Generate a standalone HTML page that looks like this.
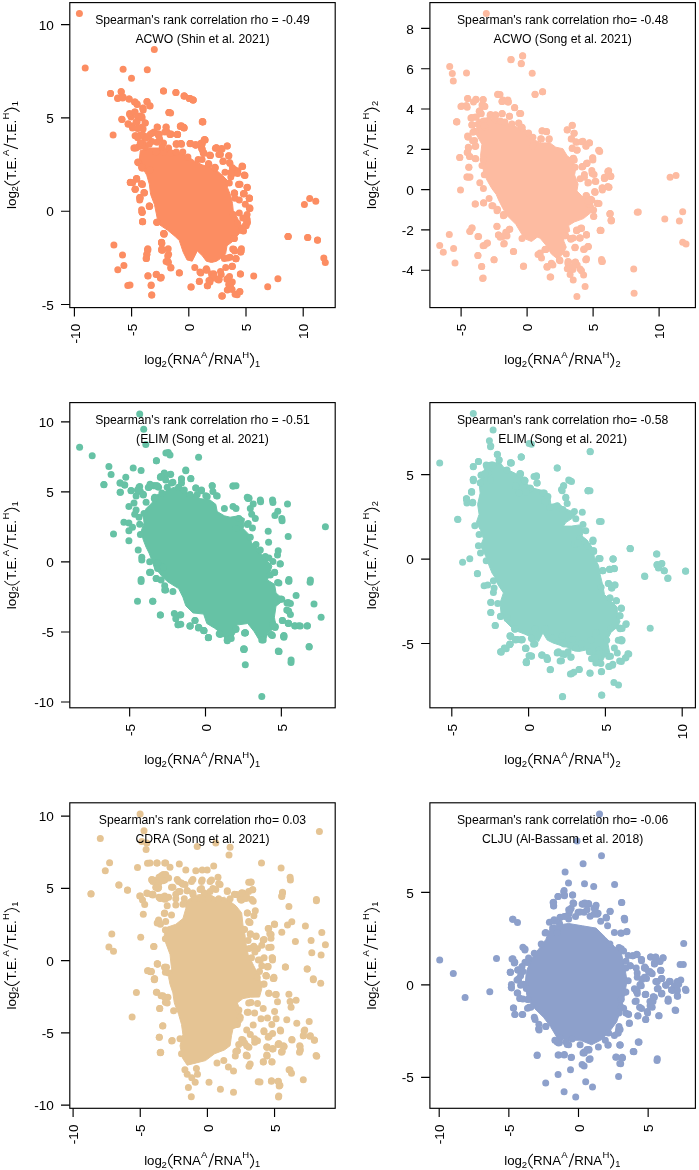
<!DOCTYPE html>
<html><head><meta charset="utf-8"><style>
html,body{margin:0;padding:0;background:#fff;}
svg{display:block;will-change:transform;}
text{font-family:"Liberation Sans", sans-serif;fill:#000;}
</style></head><body>
<svg width="699" height="1170" viewBox="0 0 699 1170">
<g fill="#FC8D62"><polygon points="140.3,150.6 149.3,148.0 162.2,148.0 168.6,149.3 178.9,151.9 186.6,155.7 194.4,160.9 202.1,164.8 209.8,167.3 216.2,170.0 222.2,175.2 228.2,181.2 227.3,187.2 230.8,195.8 232.5,203.5 233.3,211.2 237.6,218.1 240.2,225.8 239.8,232.9 232.1,241.9 227.0,245.7 225.7,253.5 223.1,257.3 220.5,258.6 216.6,261.2 211.5,262.5 206.3,261.2 202.5,256.0 197.3,250.9 194.8,256.0 192.2,261.2 187.0,259.9 183.2,252.2 179.3,240.6 175.4,236.7 167.7,230.3 160.0,225.1 157.2,218.1 154.5,204.7 150.6,194.4 149.3,184.1 146.7,175.1 142.9,168.6 139.0,162.2" fill="#FC8D62" stroke="#FC8D62" stroke-width="1" stroke-linejoin="round"/>
<circle cx="79.4" cy="13.6" r="3.5"/>
<circle cx="154.3" cy="49.5" r="3.5"/>
<circle cx="85.2" cy="67.9" r="3.5"/>
<circle cx="123.1" cy="69.3" r="3.5"/>
<circle cx="147.3" cy="69.7" r="3.5"/>
<circle cx="131.5" cy="78.3" r="3.5"/>
<circle cx="110.5" cy="93.5" r="3.5"/>
<circle cx="121.3" cy="91.9" r="3.5"/>
<circle cx="117.7" cy="98.1" r="3.5"/>
<circle cx="122.7" cy="98.1" r="3.5"/>
<circle cx="129.1" cy="98.9" r="3.5"/>
<circle cx="134.5" cy="101.9" r="3.5"/>
<circle cx="137.1" cy="104.1" r="3.5"/>
<circle cx="142.7" cy="108.2" r="3.5"/>
<circle cx="146.9" cy="101.7" r="3.5"/>
<circle cx="149.7" cy="105.7" r="3.5"/>
<circle cx="163.5" cy="91.1" r="3.5"/>
<circle cx="176.0" cy="92.5" r="3.5"/>
<circle cx="184.4" cy="96.1" r="3.5"/>
<circle cx="190.2" cy="98.5" r="3.5"/>
<circle cx="193.2" cy="100.1" r="3.5"/>
<circle cx="169.1" cy="112.6" r="3.5"/>
<circle cx="110.5" cy="93.6" r="3.5"/>
<circle cx="121.1" cy="91.6" r="3.5"/>
<circle cx="117.7" cy="98.4" r="3.5"/>
<circle cx="123.1" cy="97.0" r="3.5"/>
<circle cx="129.1" cy="99.0" r="3.5"/>
<circle cx="135.1" cy="102.0" r="3.5"/>
<circle cx="137.1" cy="104.4" r="3.5"/>
<circle cx="143.1" cy="108.0" r="3.5"/>
<circle cx="147.1" cy="101.6" r="3.5"/>
<circle cx="150.1" cy="106.0" r="3.5"/>
<circle cx="163.5" cy="91.0" r="3.5"/>
<circle cx="175.8" cy="92.4" r="3.5"/>
<circle cx="184.2" cy="96.0" r="3.5"/>
<circle cx="189.2" cy="98.4" r="3.5"/>
<circle cx="193.2" cy="100.0" r="3.5"/>
<circle cx="169.1" cy="112.4" r="3.5"/>
<circle cx="202.2" cy="121.7" r="3.5"/>
<circle cx="122.1" cy="119.5" r="3.5"/>
<circle cx="129.7" cy="114.4" r="3.5"/>
<circle cx="135.1" cy="112.0" r="3.5"/>
<circle cx="131.1" cy="117.1" r="3.5"/>
<circle cx="140.1" cy="116.1" r="3.5"/>
<circle cx="142.1" cy="118.1" r="3.5"/>
<circle cx="128.1" cy="123.7" r="3.5"/>
<circle cx="132.1" cy="126.1" r="3.5"/>
<circle cx="137.1" cy="122.1" r="3.5"/>
<circle cx="145.1" cy="123.1" r="3.5"/>
<circle cx="143.1" cy="129.1" r="3.5"/>
<circle cx="138.1" cy="128.1" r="3.5"/>
<circle cx="113.1" cy="135.1" r="3.5"/>
<circle cx="157.1" cy="127.1" r="3.5"/>
<circle cx="166.1" cy="127.1" r="3.5"/>
<circle cx="170.1" cy="134.1" r="3.5"/>
<circle cx="159.1" cy="134.1" r="3.5"/>
<circle cx="154.1" cy="132.1" r="3.5"/>
<circle cx="177.2" cy="134.5" r="3.5"/>
<circle cx="181.2" cy="126.5" r="3.5"/>
<circle cx="184.2" cy="127.7" r="3.5"/>
<circle cx="176.2" cy="144.1" r="3.5"/>
<circle cx="181.2" cy="143.7" r="3.5"/>
<circle cx="190.2" cy="143.7" r="3.5"/>
<circle cx="195.8" cy="145.1" r="3.5"/>
<circle cx="202.2" cy="144.1" r="3.5"/>
<circle cx="205.2" cy="140.1" r="3.5"/>
<circle cx="136.1" cy="148.1" r="3.5"/>
<circle cx="141.1" cy="146.1" r="3.5"/>
<circle cx="138.1" cy="162.1" r="3.5"/>
<circle cx="142.1" cy="168.1" r="3.5"/>
<circle cx="130.5" cy="182.5" r="3.5"/>
<circle cx="136.5" cy="178.5" r="3.5"/>
<circle cx="141.7" cy="183.7" r="3.5"/>
<circle cx="135.1" cy="189.2" r="3.5"/>
<circle cx="144.5" cy="192.8" r="3.5"/>
<circle cx="140.1" cy="198.2" r="3.5"/>
<circle cx="149.7" cy="206.2" r="3.5"/>
<circle cx="142.1" cy="212.2" r="3.5"/>
<circle cx="142.7" cy="221.8" r="3.5"/>
<circle cx="157.1" cy="222.2" r="3.5"/>
<circle cx="164.1" cy="234.2" r="3.5"/>
<circle cx="129.6" cy="113.6" r="3.5"/>
<circle cx="134.6" cy="112.1" r="3.5"/>
<circle cx="137.5" cy="116.4" r="3.5"/>
<circle cx="141.8" cy="116.4" r="3.5"/>
<circle cx="121.7" cy="119.3" r="3.5"/>
<circle cx="128.2" cy="124.3" r="3.5"/>
<circle cx="132.5" cy="127.9" r="3.5"/>
<circle cx="136.0" cy="122.2" r="3.5"/>
<circle cx="145.3" cy="122.9" r="3.5"/>
<circle cx="141.8" cy="127.2" r="3.5"/>
<circle cx="137.5" cy="128.6" r="3.5"/>
<circle cx="168.9" cy="112.6" r="3.5"/>
<circle cx="143.2" cy="110.0" r="3.5"/>
<circle cx="202.6" cy="121.7" r="3.5"/>
<circle cx="157.5" cy="127.2" r="3.5"/>
<circle cx="166.1" cy="127.2" r="3.5"/>
<circle cx="166.8" cy="131.5" r="3.5"/>
<circle cx="170.4" cy="134.6" r="3.5"/>
<circle cx="177.5" cy="134.6" r="3.5"/>
<circle cx="180.4" cy="126.5" r="3.5"/>
<circle cx="184.0" cy="127.9" r="3.5"/>
<circle cx="158.9" cy="135.5" r="3.5"/>
<circle cx="152.5" cy="132.9" r="3.5"/>
<circle cx="148.9" cy="135.8" r="3.5"/>
<circle cx="136.0" cy="135.8" r="3.5"/>
<circle cx="140.3" cy="135.0" r="3.5"/>
<circle cx="144.6" cy="138.6" r="3.5"/>
<circle cx="134.6" cy="147.9" r="3.5"/>
<circle cx="138.9" cy="146.5" r="3.5"/>
<circle cx="143.2" cy="144.3" r="3.5"/>
<circle cx="177.5" cy="144.0" r="3.5"/>
<circle cx="181.1" cy="143.6" r="3.5"/>
<circle cx="190.4" cy="143.6" r="3.5"/>
<circle cx="195.4" cy="145.1" r="3.5"/>
<circle cx="200.4" cy="144.3" r="3.5"/>
<circle cx="204.7" cy="139.8" r="3.5"/>
<circle cx="201.8" cy="148.6" r="3.5"/>
<circle cx="203.3" cy="152.9" r="3.5"/>
<circle cx="210.4" cy="155.5" r="3.5"/>
<circle cx="215.4" cy="148.3" r="3.5"/>
<circle cx="138.9" cy="162.9" r="3.5"/>
<circle cx="142.5" cy="167.9" r="3.5"/>
<circle cx="150.3" cy="170.1" r="3.5"/>
<circle cx="130.3" cy="182.2" r="3.5"/>
<circle cx="136.7" cy="178.7" r="3.5"/>
<circle cx="142.5" cy="184.4" r="3.5"/>
<circle cx="130.3" cy="182.6" r="3.5"/>
<circle cx="136.7" cy="178.9" r="3.5"/>
<circle cx="141.8" cy="184.0" r="3.5"/>
<circle cx="135.3" cy="189.3" r="3.5"/>
<circle cx="143.9" cy="192.6" r="3.5"/>
<circle cx="140.0" cy="197.6" r="3.5"/>
<circle cx="149.3" cy="206.1" r="3.5"/>
<circle cx="142.2" cy="212.3" r="3.5"/>
<circle cx="142.5" cy="221.5" r="3.5"/>
<circle cx="156.8" cy="222.2" r="3.5"/>
<circle cx="163.9" cy="234.1" r="3.5"/>
<circle cx="161.5" cy="242.2" r="3.5"/>
<circle cx="147.8" cy="248.7" r="3.5"/>
<circle cx="161.8" cy="248.7" r="3.5"/>
<circle cx="168.2" cy="248.7" r="3.5"/>
<circle cx="202.9" cy="122.1" r="3.5"/>
<circle cx="204.3" cy="140.0" r="3.5"/>
<circle cx="201.4" cy="146.5" r="3.5"/>
<circle cx="203.6" cy="152.9" r="3.5"/>
<circle cx="210.0" cy="155.5" r="3.5"/>
<circle cx="216.5" cy="147.9" r="3.5"/>
<circle cx="221.5" cy="148.6" r="3.5"/>
<circle cx="227.2" cy="146.0" r="3.5"/>
<circle cx="220.0" cy="154.3" r="3.5"/>
<circle cx="228.6" cy="155.8" r="3.5"/>
<circle cx="222.9" cy="161.5" r="3.5"/>
<circle cx="230.0" cy="163.6" r="3.5"/>
<circle cx="242.2" cy="166.5" r="3.5"/>
<circle cx="234.3" cy="169.4" r="3.5"/>
<circle cx="237.9" cy="170.8" r="3.5"/>
<circle cx="244.3" cy="175.1" r="3.5"/>
<circle cx="208.6" cy="164.3" r="3.5"/>
<circle cx="215.0" cy="167.9" r="3.5"/>
<circle cx="225.0" cy="172.2" r="3.5"/>
<circle cx="229.3" cy="182.9" r="3.5"/>
<circle cx="238.6" cy="184.4" r="3.5"/>
<circle cx="247.2" cy="187.2" r="3.5"/>
<circle cx="234.3" cy="193.0" r="3.5"/>
<circle cx="243.6" cy="193.7" r="3.5"/>
<circle cx="249.4" cy="198.0" r="3.5"/>
<circle cx="234.3" cy="192.9" r="3.5"/>
<circle cx="243.6" cy="193.6" r="3.5"/>
<circle cx="249.4" cy="198.3" r="3.5"/>
<circle cx="249.4" cy="208.6" r="3.5"/>
<circle cx="246.5" cy="218.6" r="3.5"/>
<circle cx="245.8" cy="225.1" r="3.5"/>
<circle cx="242.9" cy="230.8" r="3.5"/>
<circle cx="234.3" cy="238.6" r="3.5"/>
<circle cx="233.6" cy="249.4" r="3.5"/>
<circle cx="240.8" cy="251.5" r="3.5"/>
<circle cx="230.0" cy="257.2" r="3.5"/>
<circle cx="235.8" cy="258.7" r="3.5"/>
<circle cx="232.2" cy="266.5" r="3.5"/>
<circle cx="206.4" cy="268.7" r="3.5"/>
<circle cx="288.0" cy="236.5" r="3.5"/>
<circle cx="163.6" cy="233.6" r="3.5"/>
<circle cx="161.5" cy="242.6" r="3.5"/>
<circle cx="161.8" cy="250.0" r="3.5"/>
<circle cx="147.9" cy="250.0" r="3.5"/>
<circle cx="146.9" cy="254.3" r="3.5"/>
<circle cx="146.5" cy="258.6" r="3.5"/>
<circle cx="168.6" cy="254.3" r="3.5"/>
<circle cx="167.9" cy="261.5" r="3.5"/>
<circle cx="170.8" cy="267.9" r="3.5"/>
<circle cx="179.4" cy="272.9" r="3.5"/>
<circle cx="147.9" cy="276.1" r="3.5"/>
<circle cx="156.5" cy="274.3" r="3.5"/>
<circle cx="160.8" cy="277.9" r="3.5"/>
<circle cx="151.2" cy="285.1" r="3.5"/>
<circle cx="151.7" cy="295.1" r="3.5"/>
<circle cx="130.0" cy="285.1" r="3.5"/>
<circle cx="191.2" cy="286.9" r="3.5"/>
<circle cx="199.4" cy="281.2" r="3.5"/>
<circle cx="207.3" cy="285.8" r="3.5"/>
<circle cx="222.3" cy="296.1" r="3.5"/>
<circle cx="200.8" cy="272.9" r="3.5"/>
<circle cx="205.8" cy="270.1" r="3.5"/>
<circle cx="211.5" cy="278.6" r="3.5"/>
<circle cx="218.7" cy="280.1" r="3.5"/>
<circle cx="228.7" cy="284.4" r="3.5"/>
<circle cx="227.3" cy="290.1" r="3.5"/>
<circle cx="288.1" cy="236.5" r="3.5"/>
<circle cx="307.6" cy="237.4" r="3.5"/>
<circle cx="317.5" cy="240.2" r="3.5"/>
<circle cx="323.8" cy="257.9" r="3.5"/>
<circle cx="325.3" cy="262.5" r="3.5"/>
<circle cx="233.8" cy="249.2" r="3.5"/>
<circle cx="240.7" cy="250.5" r="3.5"/>
<circle cx="240.7" cy="252.3" r="3.5"/>
<circle cx="236.0" cy="258.8" r="3.5"/>
<circle cx="227.7" cy="257.9" r="3.5"/>
<circle cx="232.3" cy="266.3" r="3.5"/>
<circle cx="240.3" cy="274.1" r="3.5"/>
<circle cx="253.7" cy="276.1" r="3.5"/>
<circle cx="277.9" cy="278.7" r="3.5"/>
<circle cx="267.7" cy="286.7" r="3.5"/>
<circle cx="222.1" cy="296.0" r="3.5"/>
<circle cx="235.1" cy="294.2" r="3.5"/>
<circle cx="239.8" cy="291.7" r="3.5"/>
<circle cx="230.5" cy="285.8" r="3.5"/>
<circle cx="232.3" cy="282.1" r="3.5"/>
<circle cx="227.7" cy="278.4" r="3.5"/>
<circle cx="221.2" cy="274.6" r="3.5"/>
<circle cx="213.7" cy="273.7" r="3.5"/>
<circle cx="217.4" cy="279.3" r="3.5"/>
<circle cx="210.0" cy="282.1" r="3.5"/>
<circle cx="243.5" cy="230.9" r="3.5"/>
<circle cx="234.2" cy="238.4" r="3.5"/>
<circle cx="242.6" cy="166.5" r="3.5"/>
<circle cx="245.0" cy="175.5" r="3.5"/>
<circle cx="240.0" cy="184.3" r="3.5"/>
<circle cx="247.2" cy="187.6" r="3.5"/>
<circle cx="244.3" cy="193.6" r="3.5"/>
<circle cx="249.3" cy="198.4" r="3.5"/>
<circle cx="250.0" cy="208.4" r="3.5"/>
<circle cx="247.2" cy="219.4" r="3.5"/>
<circle cx="245.7" cy="225.1" r="3.5"/>
<circle cx="241.4" cy="230.1" r="3.5"/>
<circle cx="309.7" cy="198.6" r="3.5"/>
<circle cx="315.8" cy="201.2" r="3.5"/>
<circle cx="304.4" cy="204.6" r="3.5"/>
<circle cx="288.2" cy="236.4" r="3.5"/>
<circle cx="307.8" cy="237.6" r="3.5"/>
<circle cx="317.5" cy="240.1" r="3.5"/>
<circle cx="241.4" cy="248.7" r="3.5"/>
<circle cx="184.0" cy="96.1" r="3.5"/>
<circle cx="189.7" cy="98.6" r="3.5"/>
<circle cx="192.9" cy="100.1" r="3.5"/>
<circle cx="202.6" cy="121.8" r="3.5"/>
<circle cx="181.4" cy="125.8" r="3.5"/>
<circle cx="183.6" cy="127.3" r="3.5"/>
<circle cx="170.6" cy="112.9" r="3.5"/>
<circle cx="202.6" cy="121.8" r="3.5"/>
<circle cx="180.3" cy="126.0" r="3.5"/>
<circle cx="183.7" cy="127.7" r="3.5"/>
<circle cx="171.1" cy="134.0" r="3.5"/>
<circle cx="177.4" cy="134.3" r="3.5"/>
<circle cx="176.3" cy="143.8" r="3.5"/>
<circle cx="180.3" cy="143.8" r="3.5"/>
<circle cx="190.0" cy="143.4" r="3.5"/>
<circle cx="195.8" cy="144.9" r="3.5"/>
<circle cx="200.9" cy="143.2" r="3.5"/>
<circle cx="204.3" cy="139.8" r="3.5"/>
<circle cx="202.0" cy="148.9" r="3.5"/>
<circle cx="203.2" cy="152.3" r="3.5"/>
<circle cx="210.1" cy="155.6" r="3.5"/>
<circle cx="216.4" cy="147.8" r="3.5"/>
<circle cx="222.1" cy="148.9" r="3.5"/>
<circle cx="227.2" cy="146.1" r="3.5"/>
<circle cx="220.4" cy="154.6" r="3.5"/>
<circle cx="223.2" cy="160.9" r="3.5"/>
<circle cx="228.9" cy="155.8" r="3.5"/>
<circle cx="229.5" cy="162.6" r="3.5"/>
<circle cx="242.1" cy="166.1" r="3.5"/>
<circle cx="232.4" cy="167.8" r="3.5"/>
<circle cx="215.2" cy="167.8" r="3.5"/>
<circle cx="208.9" cy="164.4" r="3.5"/>
<circle cx="139.7" cy="200.0" r="3.5"/>
<circle cx="149.3" cy="206.4" r="3.5"/>
<circle cx="142.1" cy="212.2" r="3.5"/>
<circle cx="142.5" cy="221.7" r="3.5"/>
<circle cx="156.8" cy="222.2" r="3.5"/>
<circle cx="164.0" cy="233.6" r="3.5"/>
<circle cx="161.6" cy="242.6" r="3.5"/>
<circle cx="161.6" cy="250.1" r="3.5"/>
<circle cx="166.1" cy="261.5" r="3.5"/>
<circle cx="113.9" cy="245.1" r="3.5"/>
<circle cx="122.5" cy="255.1" r="3.5"/>
<circle cx="123.9" cy="265.5" r="3.5"/>
<circle cx="117.8" cy="269.8" r="3.5"/>
<circle cx="147.5" cy="250.1" r="3.5"/>
<circle cx="146.8" cy="254.4" r="3.5"/>
<circle cx="146.1" cy="258.4" r="3.5"/>
<circle cx="148.0" cy="275.8" r="3.5"/>
<circle cx="156.1" cy="274.4" r="3.5"/>
<circle cx="160.4" cy="278.0" r="3.5"/>
<circle cx="151.1" cy="285.4" r="3.5"/>
<circle cx="151.8" cy="295.1" r="3.5"/>
<circle cx="127.8" cy="285.6" r="3.5"/>
<circle cx="135.1" cy="135.8" r="3.5"/>
<circle cx="142.9" cy="135.1" r="3.5"/>
<circle cx="150.6" cy="133.9" r="3.5"/>
<circle cx="158.3" cy="135.1" r="3.5"/>
<circle cx="164.8" cy="131.9" r="3.5"/>
<circle cx="169.9" cy="134.5" r="3.5"/>
<circle cx="177.6" cy="134.5" r="3.5"/>
<circle cx="133.9" cy="148.0" r="3.5"/>
<circle cx="140.3" cy="142.9" r="3.5"/>
<circle cx="145.4" cy="146.7" r="3.5"/>
<circle cx="151.9" cy="141.6" r="3.5"/>
<circle cx="157.0" cy="142.2" r="3.5"/>
<circle cx="163.5" cy="142.9" r="3.5"/>
<circle cx="168.6" cy="148.0" r="3.5"/>
<circle cx="176.3" cy="144.2" r="3.5"/>
<circle cx="181.5" cy="144.2" r="3.5"/>
<circle cx="155.7" cy="151.9" r="3.5"/>
<circle cx="163.5" cy="151.9" r="3.5"/>
<circle cx="171.2" cy="153.2" r="3.5"/>
<circle cx="176.3" cy="151.9" r="3.5"/>
<circle cx="182.8" cy="151.9" r="3.5"/>
<circle cx="187.9" cy="157.0" r="3.5"/>
<circle cx="198.2" cy="159.6" r="3.5"/>
<circle cx="202.1" cy="159.6" r="3.5"/>
<circle cx="208.5" cy="163.5" r="3.5"/>
<circle cx="215.0" cy="167.3" r="3.5"/>
<circle cx="190.5" cy="143.5" r="3.5"/>
<circle cx="195.7" cy="144.8" r="3.5"/>
<circle cx="202.1" cy="142.9" r="3.5"/>
<circle cx="204.7" cy="139.7" r="3.5"/>
<circle cx="202.1" cy="149.3" r="3.5"/>
<circle cx="204.0" cy="153.2" r="3.5"/>
<circle cx="209.8" cy="155.1" r="3.5"/>
<circle cx="216.3" cy="148.0" r="3.5"/>
<circle cx="218.8" cy="154.5" r="3.5"/>
<circle cx="137.7" cy="162.2" r="3.5"/>
<circle cx="141.6" cy="167.3" r="3.5"/>
<circle cx="136.4" cy="178.9" r="3.5"/>
<circle cx="132.6" cy="182.8" r="3.5"/>
<circle cx="141.6" cy="184.1" r="3.5"/>
<circle cx="135.1" cy="189.2" r="3.5"/>
<circle cx="144.2" cy="193.1" r="3.5"/>
<circle cx="139.7" cy="197.6" r="3.5"/>
<circle cx="149.3" cy="206.0" r="3.5"/>
<circle cx="141.6" cy="209.8" r="3.5"/>
<circle cx="137.7" cy="137.7" r="3.5"/>
<circle cx="146.7" cy="137.7" r="3.5"/>
<circle cx="159.6" cy="139.0" r="3.5"/>
<circle cx="162.2" cy="146.7" r="3.5"/>
<circle cx="149.3" cy="144.2" r="3.5"/>
<circle cx="230.8" cy="176.9" r="3.5"/>
<circle cx="232.5" cy="173.4" r="3.5"/>
<circle cx="237.6" cy="173.4" r="3.5"/>
<circle cx="244.5" cy="175.2" r="3.5"/>
<circle cx="238.9" cy="184.2" r="3.5"/>
<circle cx="247.1" cy="187.6" r="3.5"/>
<circle cx="234.6" cy="193.2" r="3.5"/>
<circle cx="243.6" cy="194.0" r="3.5"/>
<circle cx="249.2" cy="198.3" r="3.5"/>
<circle cx="239.3" cy="200.0" r="3.5"/>
<circle cx="245.3" cy="204.3" r="3.5"/>
<circle cx="249.6" cy="207.8" r="3.5"/>
<circle cx="247.1" cy="214.6" r="3.5"/>
<circle cx="246.2" cy="219.8" r="3.5"/>
<circle cx="246.2" cy="225.8" r="3.5"/>
<circle cx="241.9" cy="230.1" r="3.5"/>
<circle cx="230.8" cy="172.6" r="3.5"/>
<circle cx="235.0" cy="198.3" r="3.5"/>
<circle cx="233.3" cy="214.6" r="3.5"/>
<circle cx="239.3" cy="212.9" r="3.5"/>
<circle cx="237.6" cy="223.2" r="3.5"/>
<circle cx="242.8" cy="218.1" r="3.5"/>
<circle cx="163.9" cy="233.5" r="3.5"/>
<circle cx="161.9" cy="243.2" r="3.5"/>
<circle cx="162.6" cy="250.3" r="3.5"/>
<circle cx="167.7" cy="256.0" r="3.5"/>
<circle cx="168.4" cy="262.5" r="3.5"/>
<circle cx="170.9" cy="267.6" r="3.5"/>
<circle cx="179.3" cy="272.8" r="3.5"/>
<circle cx="161.3" cy="277.3" r="3.5"/>
<circle cx="194.8" cy="267.6" r="3.5"/>
<circle cx="199.9" cy="272.1" r="3.5"/>
<circle cx="207.0" cy="270.2" r="3.5"/>
<circle cx="211.5" cy="274.1" r="3.5"/>
<circle cx="214.1" cy="276.6" r="3.5"/>
<circle cx="219.2" cy="279.2" r="3.5"/>
<circle cx="208.9" cy="280.5" r="3.5"/>
<circle cx="199.3" cy="281.5" r="3.5"/>
<circle cx="190.9" cy="286.9" r="3.5"/>
<circle cx="207.6" cy="285.7" r="3.5"/>
<circle cx="226.9" cy="279.2" r="3.5"/>
<circle cx="229.5" cy="284.4" r="3.5"/>
<circle cx="232.1" cy="289.5" r="3.5"/>
<circle cx="237.2" cy="294.7" r="3.5"/>
<circle cx="239.8" cy="291.5" r="3.5"/>
<circle cx="221.8" cy="296.0" r="3.5"/>
<circle cx="240.5" cy="274.1" r="3.5"/>
<circle cx="232.1" cy="266.3" r="3.5"/>
<circle cx="236.0" cy="258.6" r="3.5"/>
<circle cx="234.7" cy="250.9" r="3.5"/>
<circle cx="241.1" cy="250.9" r="3.5"/>
<circle cx="232.7" cy="249.0" r="3.5"/>
<circle cx="224.4" cy="258.6" r="3.5"/>
<circle cx="225.7" cy="267.6" r="3.5"/>
<circle cx="229.5" cy="276.6" r="3.5"/>
<circle cx="220.5" cy="271.5" r="3.5"/>
<circle cx="242.4" cy="227.7" r="3.5"/>
<circle cx="247.5" cy="222.6" r="3.5"/></g>
<rect x="69.8" y="2.6" width="265.4" height="305.0" fill="none" stroke="#000" stroke-width="1.15"/>
<text transform="translate(79.60 323.80) rotate(-90)" text-anchor="end" font-size="13.6">-10</text>
<text transform="translate(136.80 323.80) rotate(-90)" text-anchor="end" font-size="13.6">-5</text>
<text transform="translate(194.00 323.80) rotate(-90)" text-anchor="end" font-size="13.6">0</text>
<text transform="translate(251.20 323.80) rotate(-90)" text-anchor="end" font-size="13.6">5</text>
<text transform="translate(308.40 323.80) rotate(-90)" text-anchor="end" font-size="13.6">10</text>
<text x="53.83" y="309.60" text-anchor="end" font-size="13.6">-5</text>
<text x="53.83" y="216.30" text-anchor="end" font-size="13.6">0</text>
<text x="53.83" y="123.00" text-anchor="end" font-size="13.6">5</text>
<text x="53.83" y="29.70" text-anchor="end" font-size="13.6">10</text>
<path d="M74.40 307.60V316.40 M131.60 307.60V316.40 M188.80 307.60V316.40 M246.00 307.60V316.40 M303.20 307.60V316.40 M69.80 304.50H61.00 M69.80 211.20H61.00 M69.80 117.90H61.00 M69.80 24.60H61.00" stroke="#000" stroke-width="1.15" fill="none"/>
<text x="202.50" y="23.50" text-anchor="middle" font-size="12.2">Spearman&#39;s rank correlation rho = -0.49</text>
<text x="202.50" y="42.80" text-anchor="middle" font-size="12.2">ACWO (Shin et al. 2021)</text>
<g transform="translate(145.00 364.10)"><text x="-0.89" y="0.00" font-size="13.3">log</text><text x="16.52" y="2.80" font-size="9.5">2</text><text x="27.81" y="0.00" font-size="13.3">RNA</text><text x="56.08" y="-6.40" font-size="9.5">A</text><text x="69.01" y="0.00" font-size="13.3">RNA</text><text x="97.32" y="-6.40" font-size="9.5">H</text><text x="110.09" y="2.50" font-size="9.3">1</text><path d="M27.7 -10.9Q19.5 -3.65 27.7 3.6 M63.9 2.4L68.6 -11.4 M105.1 -10.9Q112.1 -3.65 105.1 3.6" fill="none" stroke="#000" stroke-width="1.05"/></g>
<g transform="translate(15.70 208.20) rotate(-90)"><text x="-0.90" y="0.00" font-size="13.5">log</text><text x="16.72" y="2.60" font-size="9.5">2</text><text x="28.20" y="0.00" font-size="13.5">T.E.</text><text x="52.18" y="-7.00" font-size="9.5">A</text><text x="65.10" y="0.00" font-size="13.5">T.E.</text><text x="88.72" y="-7.00" font-size="9.5">H</text><text x="101.89" y="2.50" font-size="9.3">1</text><path d="M27.3 -11.3Q19.1 -3.7 27.3 3.9 M59.5 2.2L64.2 -12.0 M96.6 -11.3Q103.6 -3.7 96.6 3.9" fill="none" stroke="#000" stroke-width="1.05"/></g>
<g fill="#FDBBA1"><polygon points="476.2,120.1 489.1,117.3 496.2,120.1 503.4,120.1 509.1,124.4 517.7,127.3 520.0,121.5 525.7,130.1 531.4,134.4 534.3,140.1 541.5,142.9 550.0,142.9 555.8,147.2 562.9,148.7 567.2,155.8 572.9,160.0 575.8,168.1 574.6,174.9 578.1,184.1 576.9,191.0 581.5,195.5 586.1,200.1 591.5,201.4 594.9,209.5 589.2,214.0 583.5,218.6 574.3,222.0 568.6,225.5 569.8,231.2 562.9,235.8 564.0,241.5 566.3,247.2 562.9,254.1 557.2,258.7 551.4,254.1 545.7,244.9 540.0,238.1 537.2,237.2 531.5,241.5 524.4,238.6 520.1,231.5 515.8,224.3 507.2,215.7 502.9,208.6 498.6,200.0 496.2,194.4 491.9,188.7 487.7,181.5 484.1,174.4 481.9,162.9 480.5,155.8 481.9,144.3 476.2,134.3 477.6,120.0" fill="#FDBBA1" stroke="#FDBBA1" stroke-width="1" stroke-linejoin="round"/>
<circle cx="449.7" cy="66.5" r="3.5"/>
<circle cx="452.3" cy="73.6" r="3.5"/>
<circle cx="453.3" cy="81.1" r="3.5"/>
<circle cx="466.5" cy="72.9" r="3.5"/>
<circle cx="510.8" cy="59.7" r="3.5"/>
<circle cx="522.7" cy="56.0" r="3.5"/>
<circle cx="521.3" cy="63.6" r="3.5"/>
<circle cx="497.7" cy="94.4" r="3.5"/>
<circle cx="502.0" cy="101.5" r="3.5"/>
<circle cx="508.0" cy="101.9" r="3.5"/>
<circle cx="514.6" cy="107.5" r="3.5"/>
<circle cx="519.8" cy="113.4" r="3.5"/>
<circle cx="467.6" cy="98.4" r="3.5"/>
<circle cx="476.2" cy="99.4" r="3.5"/>
<circle cx="483.1" cy="99.4" r="3.5"/>
<circle cx="461.9" cy="106.1" r="3.5"/>
<circle cx="466.5" cy="105.5" r="3.5"/>
<circle cx="484.5" cy="106.2" r="3.5"/>
<circle cx="479.8" cy="110.8" r="3.5"/>
<circle cx="481.2" cy="113.7" r="3.5"/>
<circle cx="470.9" cy="118.0" r="3.5"/>
<circle cx="474.8" cy="117.3" r="3.5"/>
<circle cx="471.9" cy="124.7" r="3.5"/>
<circle cx="456.9" cy="121.8" r="3.5"/>
<circle cx="490.5" cy="114.4" r="3.5"/>
<circle cx="495.5" cy="114.7" r="3.5"/>
<circle cx="502.2" cy="113.7" r="3.5"/>
<circle cx="509.4" cy="116.3" r="3.5"/>
<circle cx="512.0" cy="124.1" r="3.5"/>
<circle cx="518.8" cy="123.0" r="3.5"/>
<circle cx="522.0" cy="127.3" r="3.5"/>
<circle cx="467.6" cy="136.1" r="3.5"/>
<circle cx="474.8" cy="131.6" r="3.5"/>
<circle cx="483.4" cy="122.3" r="3.5"/>
<circle cx="485.5" cy="127.3" r="3.5"/>
<circle cx="456.6" cy="122.1" r="3.5"/>
<circle cx="471.9" cy="125.0" r="3.5"/>
<circle cx="474.8" cy="131.4" r="3.5"/>
<circle cx="467.9" cy="136.9" r="3.5"/>
<circle cx="472.6" cy="140.7" r="3.5"/>
<circle cx="475.1" cy="146.5" r="3.5"/>
<circle cx="468.6" cy="147.9" r="3.5"/>
<circle cx="467.6" cy="152.2" r="3.5"/>
<circle cx="469.8" cy="156.5" r="3.5"/>
<circle cx="459.8" cy="157.6" r="3.5"/>
<circle cx="475.1" cy="158.6" r="3.5"/>
<circle cx="468.8" cy="167.2" r="3.5"/>
<circle cx="466.9" cy="176.9" r="3.5"/>
<circle cx="469.1" cy="177.2" r="3.5"/>
<circle cx="460.5" cy="190.1" r="3.5"/>
<circle cx="479.8" cy="182.7" r="3.5"/>
<circle cx="483.4" cy="188.4" r="3.5"/>
<circle cx="475.1" cy="204.0" r="3.5"/>
<circle cx="483.6" cy="202.7" r="3.5"/>
<circle cx="489.1" cy="198.4" r="3.5"/>
<circle cx="491.9" cy="205.8" r="3.5"/>
<circle cx="497.4" cy="209.4" r="3.5"/>
<circle cx="503.4" cy="214.4" r="3.5"/>
<circle cx="535.0" cy="94.3" r="3.5"/>
<circle cx="542.6" cy="91.7" r="3.5"/>
<circle cx="520.7" cy="113.6" r="3.5"/>
<circle cx="542.2" cy="130.8" r="3.5"/>
<circle cx="546.5" cy="131.8" r="3.5"/>
<circle cx="540.7" cy="138.7" r="3.5"/>
<circle cx="549.3" cy="138.7" r="3.5"/>
<circle cx="572.2" cy="125.5" r="3.5"/>
<circle cx="567.2" cy="130.1" r="3.5"/>
<circle cx="574.1" cy="133.2" r="3.5"/>
<circle cx="571.5" cy="138.7" r="3.5"/>
<circle cx="576.5" cy="142.2" r="3.5"/>
<circle cx="582.9" cy="141.2" r="3.5"/>
<circle cx="589.4" cy="142.7" r="3.5"/>
<circle cx="585.8" cy="146.1" r="3.5"/>
<circle cx="572.2" cy="148.4" r="3.5"/>
<circle cx="577.2" cy="150.1" r="3.5"/>
<circle cx="599.0" cy="150.4" r="3.5"/>
<circle cx="592.7" cy="158.0" r="3.5"/>
<circle cx="572.9" cy="158.4" r="3.5"/>
<circle cx="582.9" cy="166.6" r="3.5"/>
<circle cx="587.2" cy="163.0" r="3.5"/>
<circle cx="575.1" cy="167.3" r="3.5"/>
<circle cx="592.2" cy="173.0" r="3.5"/>
<circle cx="608.4" cy="171.3" r="3.5"/>
<circle cx="604.4" cy="177.3" r="3.5"/>
<circle cx="610.8" cy="175.9" r="3.5"/>
<circle cx="584.4" cy="174.4" r="3.5"/>
<circle cx="580.1" cy="178.7" r="3.5"/>
<circle cx="532.9" cy="145.8" r="3.5"/>
<circle cx="528.6" cy="132.9" r="3.5"/>
<circle cx="532.9" cy="137.2" r="3.5"/>
<circle cx="586.5" cy="163.6" r="3.5"/>
<circle cx="582.2" cy="166.4" r="3.5"/>
<circle cx="592.9" cy="160.0" r="3.5"/>
<circle cx="592.2" cy="173.6" r="3.5"/>
<circle cx="595.8" cy="181.5" r="3.5"/>
<circle cx="587.9" cy="182.9" r="3.5"/>
<circle cx="608.7" cy="170.7" r="3.5"/>
<circle cx="610.8" cy="176.5" r="3.5"/>
<circle cx="604.4" cy="178.3" r="3.5"/>
<circle cx="602.2" cy="187.9" r="3.5"/>
<circle cx="608.7" cy="187.2" r="3.5"/>
<circle cx="595.1" cy="192.2" r="3.5"/>
<circle cx="586.5" cy="195.8" r="3.5"/>
<circle cx="590.8" cy="199.3" r="3.5"/>
<circle cx="597.9" cy="203.6" r="3.5"/>
<circle cx="588.6" cy="204.3" r="3.5"/>
<circle cx="593.6" cy="210.1" r="3.5"/>
<circle cx="593.6" cy="216.5" r="3.5"/>
<circle cx="610.1" cy="213.6" r="3.5"/>
<circle cx="611.5" cy="220.4" r="3.5"/>
<circle cx="637.3" cy="212.2" r="3.5"/>
<circle cx="600.1" cy="230.4" r="3.5"/>
<circle cx="581.5" cy="228.0" r="3.5"/>
<circle cx="576.5" cy="230.8" r="3.5"/>
<circle cx="586.5" cy="235.1" r="3.5"/>
<circle cx="580.1" cy="238.0" r="3.5"/>
<circle cx="570.8" cy="238.7" r="3.5"/>
<circle cx="565.8" cy="235.8" r="3.5"/>
<circle cx="575.1" cy="247.3" r="3.5"/>
<circle cx="583.6" cy="249.4" r="3.5"/>
<circle cx="587.9" cy="246.6" r="3.5"/>
<circle cx="545.0" cy="249.4" r="3.5"/>
<circle cx="586.5" cy="258.7" r="3.5"/>
<circle cx="601.5" cy="259.4" r="3.5"/>
<circle cx="574.3" cy="160.0" r="3.5"/>
<circle cx="475.4" cy="204.0" r="3.5"/>
<circle cx="483.6" cy="202.9" r="3.5"/>
<circle cx="492.9" cy="205.7" r="3.5"/>
<circle cx="497.2" cy="209.3" r="3.5"/>
<circle cx="504.3" cy="215.0" r="3.5"/>
<circle cx="472.1" cy="227.9" r="3.5"/>
<circle cx="470.0" cy="231.5" r="3.5"/>
<circle cx="496.9" cy="226.2" r="3.5"/>
<circle cx="498.6" cy="235.1" r="3.5"/>
<circle cx="502.9" cy="236.5" r="3.5"/>
<circle cx="505.8" cy="232.2" r="3.5"/>
<circle cx="509.8" cy="229.3" r="3.5"/>
<circle cx="478.6" cy="236.5" r="3.5"/>
<circle cx="484.3" cy="245.5" r="3.5"/>
<circle cx="487.5" cy="242.9" r="3.5"/>
<circle cx="504.3" cy="243.6" r="3.5"/>
<circle cx="513.6" cy="251.5" r="3.5"/>
<circle cx="477.9" cy="255.5" r="3.5"/>
<circle cx="494.0" cy="259.8" r="3.5"/>
<circle cx="481.7" cy="266.5" r="3.5"/>
<circle cx="483.2" cy="278.0" r="3.5"/>
<circle cx="523.6" cy="266.1" r="3.5"/>
<circle cx="545.8" cy="249.4" r="3.5"/>
<circle cx="538.0" cy="254.4" r="3.5"/>
<circle cx="541.5" cy="257.9" r="3.5"/>
<circle cx="547.3" cy="266.5" r="3.5"/>
<circle cx="551.5" cy="263.7" r="3.5"/>
<circle cx="559.4" cy="260.1" r="3.5"/>
<circle cx="550.1" cy="277.0" r="3.5"/>
<circle cx="567.3" cy="268.7" r="3.5"/>
<circle cx="568.0" cy="261.5" r="3.5"/>
<circle cx="570.1" cy="274.4" r="3.5"/>
<circle cx="611.2" cy="221.1" r="3.5"/>
<circle cx="600.4" cy="230.3" r="3.5"/>
<circle cx="581.5" cy="228.6" r="3.5"/>
<circle cx="577.2" cy="230.3" r="3.5"/>
<circle cx="586.5" cy="235.0" r="3.5"/>
<circle cx="580.1" cy="237.9" r="3.5"/>
<circle cx="570.8" cy="238.6" r="3.5"/>
<circle cx="565.0" cy="235.7" r="3.5"/>
<circle cx="575.1" cy="247.5" r="3.5"/>
<circle cx="584.3" cy="249.3" r="3.5"/>
<circle cx="588.4" cy="246.5" r="3.5"/>
<circle cx="545.7" cy="249.3" r="3.5"/>
<circle cx="540.0" cy="254.3" r="3.5"/>
<circle cx="586.1" cy="259.8" r="3.5"/>
<circle cx="601.8" cy="261.5" r="3.5"/>
<circle cx="567.9" cy="263.6" r="3.5"/>
<circle cx="575.1" cy="262.2" r="3.5"/>
<circle cx="577.2" cy="265.1" r="3.5"/>
<circle cx="568.6" cy="268.6" r="3.5"/>
<circle cx="572.9" cy="269.4" r="3.5"/>
<circle cx="581.5" cy="270.8" r="3.5"/>
<circle cx="583.6" cy="275.1" r="3.5"/>
<circle cx="547.2" cy="267.2" r="3.5"/>
<circle cx="552.9" cy="265.1" r="3.5"/>
<circle cx="560.0" cy="260.8" r="3.5"/>
<circle cx="550.7" cy="276.9" r="3.5"/>
<circle cx="573.2" cy="280.1" r="3.5"/>
<circle cx="585.1" cy="286.5" r="3.5"/>
<circle cx="576.9" cy="296.5" r="3.5"/>
<circle cx="633.7" cy="268.9" r="3.5"/>
<circle cx="634.1" cy="293.2" r="3.5"/>
<circle cx="599.7" cy="151.4" r="3.5"/>
<circle cx="608.3" cy="171.2" r="3.5"/>
<circle cx="604.7" cy="178.3" r="3.5"/>
<circle cx="610.2" cy="176.5" r="3.5"/>
<circle cx="602.6" cy="187.9" r="3.5"/>
<circle cx="609.0" cy="187.2" r="3.5"/>
<circle cx="599.0" cy="203.6" r="3.5"/>
<circle cx="610.2" cy="213.7" r="3.5"/>
<circle cx="611.2" cy="220.1" r="3.5"/>
<circle cx="601.1" cy="230.4" r="3.5"/>
<circle cx="638.3" cy="211.9" r="3.5"/>
<circle cx="670.1" cy="177.2" r="3.5"/>
<circle cx="676.0" cy="175.5" r="3.5"/>
<circle cx="682.7" cy="211.8" r="3.5"/>
<circle cx="664.8" cy="219.1" r="3.5"/>
<circle cx="679.4" cy="221.1" r="3.5"/>
<circle cx="682.7" cy="242.3" r="3.5"/>
<circle cx="686.0" cy="244.1" r="3.5"/>
<circle cx="497.0" cy="210.7" r="3.5"/>
<circle cx="503.4" cy="215.7" r="3.5"/>
<circle cx="449.3" cy="234.6" r="3.5"/>
<circle cx="439.7" cy="245.5" r="3.5"/>
<circle cx="443.3" cy="252.2" r="3.5"/>
<circle cx="453.6" cy="248.6" r="3.5"/>
<circle cx="455.0" cy="262.9" r="3.5"/>
<circle cx="471.9" cy="227.9" r="3.5"/>
<circle cx="469.8" cy="231.2" r="3.5"/>
<circle cx="477.9" cy="236.5" r="3.5"/>
<circle cx="486.9" cy="243.2" r="3.5"/>
<circle cx="483.1" cy="245.8" r="3.5"/>
<circle cx="477.9" cy="255.5" r="3.5"/>
<circle cx="494.1" cy="259.8" r="3.5"/>
<circle cx="481.6" cy="266.5" r="3.5"/>
<circle cx="482.6" cy="278.4" r="3.5"/>
<circle cx="497.0" cy="226.5" r="3.5"/>
<circle cx="498.4" cy="235.0" r="3.5"/>
<circle cx="500.2" cy="237.2" r="3.5"/>
<circle cx="506.3" cy="232.2" r="3.5"/>
<circle cx="509.4" cy="229.3" r="3.5"/>
<circle cx="507.0" cy="236.0" r="3.5"/>
<circle cx="503.7" cy="243.9" r="3.5"/>
<circle cx="513.4" cy="251.5" r="3.5"/>
<circle cx="523.4" cy="266.5" r="3.5"/>
<circle cx="522.0" cy="238.6" r="3.5"/>
<circle cx="511.2" cy="59.4" r="3.5"/>
<circle cx="522.6" cy="55.8" r="3.5"/>
<circle cx="521.2" cy="63.7" r="3.5"/>
<circle cx="532.2" cy="73.2" r="3.5"/>
<circle cx="535.1" cy="94.4" r="3.5"/>
<circle cx="542.6" cy="91.8" r="3.5"/>
<circle cx="500.0" cy="94.4" r="3.5"/>
<circle cx="502.9" cy="100.0" r="3.5"/>
<circle cx="507.9" cy="100.0" r="3.5"/>
<circle cx="486.3" cy="13.6" r="3.5"/>
<circle cx="497.8" cy="94.3" r="3.5"/>
<circle cx="502.1" cy="101.4" r="3.5"/>
<circle cx="508.4" cy="102.0" r="3.5"/>
<circle cx="514.7" cy="107.7" r="3.5"/>
<circle cx="519.8" cy="113.5" r="3.5"/>
<circle cx="467.7" cy="98.6" r="3.5"/>
<circle cx="475.8" cy="99.2" r="3.5"/>
<circle cx="483.2" cy="99.7" r="3.5"/>
<circle cx="460.9" cy="106.6" r="3.5"/>
<circle cx="467.2" cy="107.2" r="3.5"/>
<circle cx="473.5" cy="102.0" r="3.5"/>
<circle cx="482.0" cy="104.9" r="3.5"/>
<circle cx="484.9" cy="106.6" r="3.5"/>
<circle cx="479.2" cy="111.2" r="3.5"/>
<circle cx="480.9" cy="113.5" r="3.5"/>
<circle cx="471.7" cy="117.5" r="3.5"/>
<circle cx="476.3" cy="116.9" r="3.5"/>
<circle cx="483.8" cy="120.9" r="3.5"/>
<circle cx="472.3" cy="124.9" r="3.5"/>
<circle cx="478.0" cy="124.3" r="3.5"/>
<circle cx="484.3" cy="125.5" r="3.5"/>
<circle cx="490.1" cy="115.2" r="3.5"/>
<circle cx="495.8" cy="115.2" r="3.5"/>
<circle cx="502.1" cy="113.5" r="3.5"/>
<circle cx="509.5" cy="116.3" r="3.5"/>
<circle cx="511.8" cy="124.3" r="3.5"/>
<circle cx="518.7" cy="123.2" r="3.5"/>
<circle cx="522.1" cy="127.8" r="3.5"/>
<circle cx="456.6" cy="121.8" r="3.5"/>
<circle cx="468.3" cy="136.9" r="3.5"/>
<circle cx="472.9" cy="132.3" r="3.5"/>
<circle cx="474.6" cy="140.4" r="3.5"/>
<circle cx="475.8" cy="146.1" r="3.5"/>
<circle cx="468.3" cy="147.2" r="3.5"/>
<circle cx="467.2" cy="152.4" r="3.5"/>
<circle cx="469.5" cy="156.4" r="3.5"/>
<circle cx="459.7" cy="157.5" r="3.5"/>
<circle cx="475.8" cy="158.7" r="3.5"/>
<circle cx="468.9" cy="167.3" r="3.5"/>
<circle cx="467.2" cy="177.0" r="3.5"/>
<circle cx="470.0" cy="177.0" r="3.5"/>
<circle cx="483.2" cy="159.8" r="3.5"/>
<circle cx="482.0" cy="165.5" r="3.5"/>
<circle cx="484.3" cy="174.7" r="3.5"/>
<circle cx="495.2" cy="119.8" r="3.5"/>
<circle cx="500.4" cy="120.9" r="3.5"/>
<circle cx="504.9" cy="122.0" r="3.5"/>
<circle cx="542.0" cy="130.9" r="3.5"/>
<circle cx="546.6" cy="131.4" r="3.5"/>
<circle cx="541.4" cy="138.9" r="3.5"/>
<circle cx="548.9" cy="139.5" r="3.5"/>
<circle cx="572.3" cy="125.2" r="3.5"/>
<circle cx="567.2" cy="129.7" r="3.5"/>
<circle cx="574.1" cy="133.2" r="3.5"/>
<circle cx="571.2" cy="138.9" r="3.5"/>
<circle cx="575.8" cy="141.7" r="3.5"/>
<circle cx="581.5" cy="141.7" r="3.5"/>
<circle cx="589.5" cy="142.9" r="3.5"/>
<circle cx="586.1" cy="146.3" r="3.5"/>
<circle cx="572.3" cy="148.0" r="3.5"/>
<circle cx="576.9" cy="150.3" r="3.5"/>
<circle cx="598.7" cy="150.3" r="3.5"/>
<circle cx="592.7" cy="157.8" r="3.5"/>
<circle cx="573.5" cy="158.3" r="3.5"/>
<circle cx="586.7" cy="163.5" r="3.5"/>
<circle cx="582.1" cy="166.9" r="3.5"/>
<circle cx="591.8" cy="170.4" r="3.5"/>
<circle cx="594.1" cy="174.4" r="3.5"/>
<circle cx="584.4" cy="177.2" r="3.5"/>
<circle cx="588.4" cy="182.4" r="3.5"/>
<circle cx="595.2" cy="181.2" r="3.5"/>
<circle cx="607.8" cy="171.5" r="3.5"/>
<circle cx="604.4" cy="178.4" r="3.5"/>
<circle cx="602.1" cy="188.1" r="3.5"/>
<circle cx="607.8" cy="186.4" r="3.5"/>
<circle cx="594.7" cy="191.5" r="3.5"/>
<circle cx="586.1" cy="195.5" r="3.5"/>
<circle cx="591.8" cy="200.1" r="3.5"/>
<circle cx="597.5" cy="203.5" r="3.5"/>
<circle cx="589.5" cy="204.1" r="3.5"/>
<circle cx="594.9" cy="192.3" r="3.5"/>
<circle cx="602.4" cy="190.0" r="3.5"/>
<circle cx="588.1" cy="201.4" r="3.5"/>
<circle cx="597.2" cy="203.2" r="3.5"/>
<circle cx="593.8" cy="216.3" r="3.5"/>
<circle cx="609.8" cy="214.0" r="3.5"/>
<circle cx="611.0" cy="220.3" r="3.5"/>
<circle cx="600.4" cy="230.3" r="3.5"/>
<circle cx="580.6" cy="228.3" r="3.5"/>
<circle cx="576.6" cy="230.1" r="3.5"/>
<circle cx="586.4" cy="234.6" r="3.5"/>
<circle cx="579.5" cy="238.1" r="3.5"/>
<circle cx="573.2" cy="238.1" r="3.5"/>
<circle cx="570.9" cy="239.2" r="3.5"/>
<circle cx="564.0" cy="235.8" r="3.5"/>
<circle cx="574.9" cy="247.8" r="3.5"/>
<circle cx="584.1" cy="248.9" r="3.5"/>
<circle cx="588.1" cy="246.7" r="3.5"/>
<circle cx="545.2" cy="249.5" r="3.5"/>
<circle cx="540.0" cy="252.9" r="3.5"/>
<circle cx="551.4" cy="263.2" r="3.5"/>
<circle cx="546.9" cy="266.7" r="3.5"/>
<circle cx="559.5" cy="259.8" r="3.5"/>
<circle cx="566.3" cy="254.1" r="3.5"/>
<circle cx="568.6" cy="262.1" r="3.5"/>
<circle cx="575.5" cy="262.1" r="3.5"/>
<circle cx="573.2" cy="266.7" r="3.5"/>
<circle cx="585.8" cy="259.8" r="3.5"/>
<circle cx="602.4" cy="261.5" r="3.5"/>
<circle cx="580.1" cy="269.0" r="3.5"/></g>
<rect x="429.9" y="2.6" width="265.5" height="305.0" fill="none" stroke="#000" stroke-width="1.15"/>
<text transform="translate(466.30 323.80) rotate(-90)" text-anchor="end" font-size="13.6">-5</text>
<text transform="translate(532.30 323.80) rotate(-90)" text-anchor="end" font-size="13.6">0</text>
<text transform="translate(598.30 323.80) rotate(-90)" text-anchor="end" font-size="13.6">5</text>
<text transform="translate(664.30 323.80) rotate(-90)" text-anchor="end" font-size="13.6">10</text>
<text x="413.93" y="275.30" text-anchor="end" font-size="13.6">-4</text>
<text x="413.93" y="235.00" text-anchor="end" font-size="13.6">-2</text>
<text x="413.93" y="194.70" text-anchor="end" font-size="13.6">0</text>
<text x="413.93" y="154.40" text-anchor="end" font-size="13.6">2</text>
<text x="413.93" y="114.10" text-anchor="end" font-size="13.6">4</text>
<text x="413.93" y="73.80" text-anchor="end" font-size="13.6">6</text>
<text x="413.93" y="33.50" text-anchor="end" font-size="13.6">8</text>
<path d="M461.10 307.60V316.40 M527.10 307.60V316.40 M593.10 307.60V316.40 M659.10 307.60V316.40 M429.90 270.20H421.10 M429.90 229.90H421.10 M429.90 189.60H421.10 M429.90 149.30H421.10 M429.90 109.00H421.10 M429.90 68.70H421.10 M429.90 28.40H421.10" stroke="#000" stroke-width="1.15" fill="none"/>
<text x="562.65" y="23.50" text-anchor="middle" font-size="12.2">Spearman&#39;s rank correlation rho= -0.48</text>
<text x="562.65" y="42.80" text-anchor="middle" font-size="12.2">ACWO (Song et al. 2021)</text>
<g transform="translate(505.15 364.10)"><text x="-0.89" y="0.00" font-size="13.3">log</text><text x="16.52" y="2.80" font-size="9.5">2</text><text x="27.81" y="0.00" font-size="13.3">RNA</text><text x="56.08" y="-6.40" font-size="9.5">A</text><text x="69.01" y="0.00" font-size="13.3">RNA</text><text x="97.32" y="-6.40" font-size="9.5">H</text><text x="110.33" y="2.50" font-size="9.3">2</text><path d="M27.7 -10.9Q19.5 -3.65 27.7 3.6 M63.9 2.4L68.6 -11.4 M105.1 -10.9Q112.1 -3.65 105.1 3.6" fill="none" stroke="#000" stroke-width="1.05"/></g>
<g transform="translate(375.80 208.20) rotate(-90)"><text x="-0.90" y="0.00" font-size="13.5">log</text><text x="16.72" y="2.60" font-size="9.5">2</text><text x="28.20" y="0.00" font-size="13.5">T.E.</text><text x="52.18" y="-7.00" font-size="9.5">A</text><text x="65.10" y="0.00" font-size="13.5">T.E.</text><text x="88.72" y="-7.00" font-size="9.5">H</text><text x="102.13" y="2.50" font-size="9.3">2</text><path d="M27.3 -11.3Q19.1 -3.7 27.3 3.9 M59.5 2.2L64.2 -12.0 M96.6 -11.3Q103.6 -3.7 96.6 3.9" fill="none" stroke="#000" stroke-width="1.05"/></g>
<g fill="#66C2A5"><polygon points="157.6,494.3 161.4,494.3 167.2,490.0 174.3,487.2 181.5,487.2 187.2,492.9 192.9,494.3 200.1,498.6 210.1,500.0 215.8,504.3 217.2,511.5 224.4,515.8 230.1,517.2 238.7,515.8 244.4,518.6 243.2,528.6 248.9,534.4 251.7,542.9 257.5,548.7 261.8,554.4 266.0,560.1 272.0,566.0 270.0,572.0 267.5,580.0 274.6,584.3 276.0,592.9 283.9,599.9 276.0,606.2 274.4,617.2 276.0,626.6 268.1,633.0 265.0,640.8 258.7,639.2 254.0,631.4 247.7,623.5 236.6,625.1 235.1,632.9 230.4,640.8 225.6,639.2 220.9,632.9 214.6,628.2 206.8,623.5 203.6,614.1 192.9,612.9 185.8,605.8 182.9,597.2 178.6,588.6 167.2,581.5 161.4,575.7 158.6,572.0 154.7,568.7 151.8,560.1 149.0,553.0 146.1,547.2 143.3,540.1 141.1,531.5 144.0,522.9 143.3,515.8 146.1,508.6 151.8,502.9" fill="#66C2A5" stroke="#66C2A5" stroke-width="1" stroke-linejoin="round"/>
<circle cx="139.7" cy="413.9" r="3.5"/>
<circle cx="143.7" cy="429.3" r="3.5"/>
<circle cx="145.8" cy="444.6" r="3.5"/>
<circle cx="79.6" cy="447.2" r="3.5"/>
<circle cx="92.2" cy="455.8" r="3.5"/>
<circle cx="156.4" cy="460.8" r="3.5"/>
<circle cx="165.9" cy="452.9" r="3.5"/>
<circle cx="108.9" cy="466.5" r="3.5"/>
<circle cx="111.1" cy="474.4" r="3.5"/>
<circle cx="133.2" cy="468.0" r="3.5"/>
<circle cx="141.1" cy="470.4" r="3.5"/>
<circle cx="125.8" cy="477.3" r="3.5"/>
<circle cx="103.9" cy="484.7" r="3.5"/>
<circle cx="120.1" cy="483.0" r="3.5"/>
<circle cx="124.7" cy="485.1" r="3.5"/>
<circle cx="120.4" cy="492.3" r="3.5"/>
<circle cx="131.1" cy="490.6" r="3.5"/>
<circle cx="139.0" cy="487.3" r="3.5"/>
<circle cx="140.4" cy="491.6" r="3.5"/>
<circle cx="148.3" cy="487.6" r="3.5"/>
<circle cx="153.3" cy="485.8" r="3.5"/>
<circle cx="157.6" cy="486.6" r="3.5"/>
<circle cx="160.4" cy="477.3" r="3.5"/>
<circle cx="164.7" cy="475.8" r="3.5"/>
<circle cx="136.1" cy="495.9" r="3.5"/>
<circle cx="143.3" cy="495.1" r="3.5"/>
<circle cx="154.7" cy="497.3" r="3.5"/>
<circle cx="161.9" cy="493.0" r="3.5"/>
<circle cx="168.3" cy="452.6" r="3.5"/>
<circle cx="170.0" cy="455.1" r="3.5"/>
<circle cx="156.4" cy="460.8" r="3.5"/>
<circle cx="198.6" cy="457.2" r="3.5"/>
<circle cx="185.8" cy="470.1" r="3.5"/>
<circle cx="164.3" cy="473.0" r="3.5"/>
<circle cx="160.7" cy="477.3" r="3.5"/>
<circle cx="170.0" cy="474.4" r="3.5"/>
<circle cx="165.7" cy="480.1" r="3.5"/>
<circle cx="172.9" cy="482.3" r="3.5"/>
<circle cx="181.5" cy="478.7" r="3.5"/>
<circle cx="181.5" cy="483.0" r="3.5"/>
<circle cx="190.8" cy="478.7" r="3.5"/>
<circle cx="195.8" cy="488.0" r="3.5"/>
<circle cx="201.5" cy="490.1" r="3.5"/>
<circle cx="197.2" cy="494.4" r="3.5"/>
<circle cx="212.2" cy="485.8" r="3.5"/>
<circle cx="212.9" cy="491.6" r="3.5"/>
<circle cx="217.2" cy="495.9" r="3.5"/>
<circle cx="207.2" cy="496.6" r="3.5"/>
<circle cx="233.0" cy="486.1" r="3.5"/>
<circle cx="247.3" cy="497.3" r="3.5"/>
<circle cx="154.3" cy="485.8" r="3.5"/>
<circle cx="158.6" cy="487.3" r="3.5"/>
<circle cx="167.2" cy="487.3" r="3.5"/>
<circle cx="178.6" cy="487.3" r="3.5"/>
<circle cx="184.3" cy="490.1" r="3.5"/>
<circle cx="190.1" cy="494.4" r="3.5"/>
<circle cx="248.9" cy="498.0" r="3.5"/>
<circle cx="260.3" cy="500.0" r="3.5"/>
<circle cx="272.5" cy="500.0" r="3.5"/>
<circle cx="103.9" cy="484.6" r="3.5"/>
<circle cx="120.1" cy="482.9" r="3.5"/>
<circle cx="124.7" cy="485.0" r="3.5"/>
<circle cx="120.1" cy="492.2" r="3.5"/>
<circle cx="131.1" cy="490.7" r="3.5"/>
<circle cx="139.7" cy="486.4" r="3.5"/>
<circle cx="137.5" cy="490.0" r="3.5"/>
<circle cx="143.3" cy="494.3" r="3.5"/>
<circle cx="149.0" cy="487.2" r="3.5"/>
<circle cx="156.1" cy="485.7" r="3.5"/>
<circle cx="154.7" cy="497.9" r="3.5"/>
<circle cx="128.9" cy="506.5" r="3.5"/>
<circle cx="134.0" cy="502.9" r="3.5"/>
<circle cx="136.1" cy="510.0" r="3.5"/>
<circle cx="134.7" cy="514.3" r="3.5"/>
<circle cx="139.0" cy="517.2" r="3.5"/>
<circle cx="123.9" cy="522.2" r="3.5"/>
<circle cx="128.9" cy="522.9" r="3.5"/>
<circle cx="132.5" cy="527.2" r="3.5"/>
<circle cx="128.9" cy="530.8" r="3.5"/>
<circle cx="139.7" cy="524.3" r="3.5"/>
<circle cx="113.5" cy="534.1" r="3.5"/>
<circle cx="128.9" cy="540.8" r="3.5"/>
<circle cx="138.2" cy="550.1" r="3.5"/>
<circle cx="141.8" cy="557.3" r="3.5"/>
<circle cx="149.7" cy="572.3" r="3.5"/>
<circle cx="141.1" cy="579.4" r="3.5"/>
<circle cx="146.1" cy="502.2" r="3.5"/>
<circle cx="144.0" cy="513.6" r="3.5"/>
<circle cx="140.4" cy="534.4" r="3.5"/>
<circle cx="185.8" cy="470.7" r="3.5"/>
<circle cx="190.8" cy="478.6" r="3.5"/>
<circle cx="181.5" cy="479.3" r="3.5"/>
<circle cx="171.5" cy="482.9" r="3.5"/>
<circle cx="164.3" cy="473.6" r="3.5"/>
<circle cx="170.7" cy="474.3" r="3.5"/>
<circle cx="160.7" cy="476.4" r="3.5"/>
<circle cx="212.2" cy="485.7" r="3.5"/>
<circle cx="195.8" cy="487.9" r="3.5"/>
<circle cx="201.5" cy="490.7" r="3.5"/>
<circle cx="205.8" cy="495.8" r="3.5"/>
<circle cx="216.5" cy="495.8" r="3.5"/>
<circle cx="233.0" cy="486.0" r="3.5"/>
<circle cx="248.0" cy="498.6" r="3.5"/>
<circle cx="233.0" cy="506.5" r="3.5"/>
<circle cx="224.4" cy="508.6" r="3.5"/>
<circle cx="247.3" cy="524.4" r="3.5"/>
<circle cx="154.3" cy="498.6" r="3.5"/>
<circle cx="150.0" cy="484.3" r="3.5"/>
<circle cx="157.2" cy="485.7" r="3.5"/>
<circle cx="236.0" cy="485.7" r="3.5"/>
<circle cx="248.9" cy="498.3" r="3.5"/>
<circle cx="253.2" cy="504.0" r="3.5"/>
<circle cx="260.6" cy="501.7" r="3.5"/>
<circle cx="272.9" cy="502.5" r="3.5"/>
<circle cx="287.5" cy="504.0" r="3.5"/>
<circle cx="277.8" cy="511.2" r="3.5"/>
<circle cx="274.9" cy="515.5" r="3.5"/>
<circle cx="281.8" cy="518.6" r="3.5"/>
<circle cx="282.1" cy="520.8" r="3.5"/>
<circle cx="250.3" cy="508.6" r="3.5"/>
<circle cx="251.7" cy="514.3" r="3.5"/>
<circle cx="255.3" cy="518.6" r="3.5"/>
<circle cx="248.2" cy="523.6" r="3.5"/>
<circle cx="252.5" cy="527.9" r="3.5"/>
<circle cx="236.0" cy="508.6" r="3.5"/>
<circle cx="238.9" cy="518.6" r="3.5"/>
<circle cx="236.0" cy="528.6" r="3.5"/>
<circle cx="268.2" cy="531.2" r="3.5"/>
<circle cx="288.2" cy="536.5" r="3.5"/>
<circle cx="268.6" cy="542.2" r="3.5"/>
<circle cx="325.4" cy="526.8" r="3.5"/>
<circle cx="256.0" cy="544.4" r="3.5"/>
<circle cx="260.3" cy="550.1" r="3.5"/>
<circle cx="278.2" cy="550.8" r="3.5"/>
<circle cx="277.5" cy="555.1" r="3.5"/>
<circle cx="265.3" cy="556.5" r="3.5"/>
<circle cx="268.9" cy="558.0" r="3.5"/>
<circle cx="272.9" cy="561.5" r="3.5"/>
<circle cx="280.3" cy="563.7" r="3.5"/>
<circle cx="274.6" cy="572.3" r="3.5"/>
<circle cx="288.9" cy="579.4" r="3.5"/>
<circle cx="310.4" cy="580.0" r="3.5"/>
<circle cx="250.3" cy="537.2" r="3.5"/>
<circle cx="141.8" cy="560.0" r="3.5"/>
<circle cx="149.7" cy="561.7" r="3.5"/>
<circle cx="149.7" cy="572.6" r="3.5"/>
<circle cx="141.1" cy="581.5" r="3.5"/>
<circle cx="156.1" cy="578.6" r="3.5"/>
<circle cx="161.1" cy="580.0" r="3.5"/>
<circle cx="164.7" cy="585.8" r="3.5"/>
<circle cx="164.7" cy="590.0" r="3.5"/>
<circle cx="157.6" cy="562.9" r="3.5"/>
<circle cx="157.6" cy="568.6" r="3.5"/>
<circle cx="163.3" cy="567.2" r="3.5"/>
<circle cx="137.5" cy="601.2" r="3.5"/>
<circle cx="152.6" cy="601.2" r="3.5"/>
<circle cx="160.4" cy="615.1" r="3.5"/>
<circle cx="150.7" cy="572.2" r="3.5"/>
<circle cx="152.9" cy="601.2" r="3.5"/>
<circle cx="160.3" cy="615.1" r="3.5"/>
<circle cx="174.3" cy="613.6" r="3.5"/>
<circle cx="180.0" cy="615.1" r="3.5"/>
<circle cx="175.8" cy="618.7" r="3.5"/>
<circle cx="178.3" cy="624.7" r="3.5"/>
<circle cx="195.1" cy="620.4" r="3.5"/>
<circle cx="190.1" cy="626.1" r="3.5"/>
<circle cx="198.6" cy="627.2" r="3.5"/>
<circle cx="204.1" cy="630.8" r="3.5"/>
<circle cx="208.4" cy="637.5" r="3.5"/>
<circle cx="245.1" cy="633.0" r="3.5"/>
<circle cx="244.1" cy="649.4" r="3.5"/>
<circle cx="227.3" cy="640.8" r="3.5"/>
<circle cx="220.1" cy="634.4" r="3.5"/>
<circle cx="235.8" cy="629.4" r="3.5"/>
<circle cx="156.4" cy="578.6" r="3.5"/>
<circle cx="165.7" cy="590.0" r="3.5"/>
<circle cx="172.9" cy="591.5" r="3.5"/>
<circle cx="280.1" cy="564.0" r="3.5"/>
<circle cx="274.6" cy="572.6" r="3.5"/>
<circle cx="270.3" cy="575.0" r="3.5"/>
<circle cx="288.9" cy="581.2" r="3.5"/>
<circle cx="310.1" cy="582.2" r="3.5"/>
<circle cx="278.9" cy="582.9" r="3.5"/>
<circle cx="296.1" cy="595.5" r="3.5"/>
<circle cx="281.8" cy="599.3" r="3.5"/>
<circle cx="288.2" cy="602.6" r="3.5"/>
<circle cx="290.4" cy="603.6" r="3.5"/>
<circle cx="314.0" cy="604.1" r="3.5"/>
<circle cx="286.8" cy="610.1" r="3.5"/>
<circle cx="290.4" cy="614.4" r="3.5"/>
<circle cx="321.1" cy="617.2" r="3.5"/>
<circle cx="282.5" cy="620.4" r="3.5"/>
<circle cx="288.2" cy="623.2" r="3.5"/>
<circle cx="294.7" cy="625.8" r="3.5"/>
<circle cx="298.9" cy="625.8" r="3.5"/>
<circle cx="307.5" cy="625.8" r="3.5"/>
<circle cx="272.5" cy="623.7" r="3.5"/>
<circle cx="275.3" cy="626.5" r="3.5"/>
<circle cx="271.8" cy="635.1" r="3.5"/>
<circle cx="283.9" cy="635.5" r="3.5"/>
<circle cx="283.9" cy="637.3" r="3.5"/>
<circle cx="245.3" cy="632.7" r="3.5"/>
<circle cx="236.0" cy="628.7" r="3.5"/>
<circle cx="244.3" cy="649.0" r="3.5"/>
<circle cx="278.6" cy="651.6" r="3.5"/>
<circle cx="309.2" cy="647.0" r="3.5"/>
<circle cx="291.1" cy="660.0" r="3.5"/>
<circle cx="263.2" cy="640.1" r="3.5"/>
<circle cx="177.9" cy="624.8" r="3.5"/>
<circle cx="189.9" cy="625.9" r="3.5"/>
<circle cx="198.4" cy="628.0" r="3.5"/>
<circle cx="203.8" cy="630.6" r="3.5"/>
<circle cx="208.5" cy="637.6" r="3.5"/>
<circle cx="219.2" cy="633.8" r="3.5"/>
<circle cx="227.2" cy="640.0" r="3.5"/>
<circle cx="231.2" cy="638.6" r="3.5"/>
<circle cx="245.3" cy="632.8" r="3.5"/>
<circle cx="243.7" cy="648.7" r="3.5"/>
<circle cx="245.3" cy="664.7" r="3.5"/>
<circle cx="261.8" cy="696.6" r="3.5"/>
<circle cx="261.8" cy="640.0" r="3.5"/>
<circle cx="272.4" cy="635.4" r="3.5"/>
<circle cx="279.1" cy="651.4" r="3.5"/>
<circle cx="283.6" cy="636.5" r="3.5"/>
<circle cx="291.0" cy="662.6" r="3.5"/>
<circle cx="309.1" cy="646.6" r="3.5"/>
<circle cx="295.0" cy="625.9" r="3.5"/>
<circle cx="300.3" cy="625.9" r="3.5"/>
<circle cx="307.0" cy="625.9" r="3.5"/>
<circle cx="288.4" cy="623.2" r="3.5"/>
<circle cx="275.1" cy="627.5" r="3.5"/>
<circle cx="288.6" cy="581.0" r="3.5"/>
<circle cx="287.0" cy="603.0" r="3.5"/>
<circle cx="288.6" cy="610.9" r="3.5"/>
<circle cx="282.3" cy="620.4" r="3.5"/>
<circle cx="288.6" cy="623.5" r="3.5"/>
<circle cx="283.9" cy="636.1" r="3.5"/>
<circle cx="272.8" cy="625.1" r="3.5"/>
<circle cx="271.3" cy="634.5" r="3.5"/>
<circle cx="244.5" cy="632.9" r="3.5"/>
<circle cx="243.7" cy="649.5" r="3.5"/>
<circle cx="278.3" cy="651.0" r="3.5"/>
<circle cx="208.3" cy="637.7" r="3.5"/>
<circle cx="203.6" cy="630.6" r="3.5"/>
<circle cx="198.9" cy="627.4" r="3.5"/>
<circle cx="190.2" cy="625.9" r="3.5"/>
<circle cx="194.9" cy="620.4" r="3.5"/>
<circle cx="180.8" cy="614.8" r="3.5"/>
<circle cx="180.8" cy="624.3" r="3.5"/>
<circle cx="280.7" cy="599.1" r="3.5"/>
<circle cx="277.6" cy="582.6" r="3.5"/></g>
<rect x="69.8" y="402.6" width="265.4" height="305.2" fill="none" stroke="#000" stroke-width="1.15"/>
<text transform="translate(134.85 724.00) rotate(-90)" text-anchor="end" font-size="13.6">-5</text>
<text transform="translate(210.70 724.00) rotate(-90)" text-anchor="end" font-size="13.6">0</text>
<text transform="translate(286.55 724.00) rotate(-90)" text-anchor="end" font-size="13.6">5</text>
<text x="53.83" y="707.10" text-anchor="end" font-size="13.6">-10</text>
<text x="53.83" y="637.05" text-anchor="end" font-size="13.6">-5</text>
<text x="53.83" y="567.00" text-anchor="end" font-size="13.6">0</text>
<text x="53.83" y="496.95" text-anchor="end" font-size="13.6">5</text>
<text x="53.83" y="426.90" text-anchor="end" font-size="13.6">10</text>
<path d="M129.65 707.80V716.60 M205.50 707.80V716.60 M281.35 707.80V716.60 M69.80 702.00H61.00 M69.80 631.95H61.00 M69.80 561.90H61.00 M69.80 491.85H61.00 M69.80 421.80H61.00" stroke="#000" stroke-width="1.15" fill="none"/>
<text x="202.50" y="423.50" text-anchor="middle" font-size="12.2">Spearman&#39;s rank correlation rho = -0.51</text>
<text x="202.50" y="442.80" text-anchor="middle" font-size="12.2">(ELIM (Song et al. 2021)</text>
<g transform="translate(145.00 764.30)"><text x="-0.89" y="0.00" font-size="13.3">log</text><text x="16.52" y="2.80" font-size="9.5">2</text><text x="27.81" y="0.00" font-size="13.3">RNA</text><text x="56.08" y="-6.40" font-size="9.5">A</text><text x="69.01" y="0.00" font-size="13.3">RNA</text><text x="97.32" y="-6.40" font-size="9.5">H</text><text x="110.09" y="2.50" font-size="9.3">1</text><path d="M27.7 -10.9Q19.5 -3.65 27.7 3.6 M63.9 2.4L68.6 -11.4 M105.1 -10.9Q112.1 -3.65 105.1 3.6" fill="none" stroke="#000" stroke-width="1.05"/></g>
<g transform="translate(15.70 608.30) rotate(-90)"><text x="-0.90" y="0.00" font-size="13.5">log</text><text x="16.72" y="2.60" font-size="9.5">2</text><text x="28.20" y="0.00" font-size="13.5">T.E.</text><text x="52.18" y="-7.00" font-size="9.5">A</text><text x="65.10" y="0.00" font-size="13.5">T.E.</text><text x="88.72" y="-7.00" font-size="9.5">H</text><text x="101.89" y="2.50" font-size="9.3">1</text><path d="M27.3 -11.3Q19.1 -3.7 27.3 3.9 M59.5 2.2L64.2 -12.0 M96.6 -11.3Q103.6 -3.7 96.6 3.9" fill="none" stroke="#000" stroke-width="1.05"/></g>
<g fill="#8DD3C7"><polygon points="484.8,471.3 483.6,465.6 492.8,465.6 498.5,459.9 503.1,466.7 508.8,470.2 515.7,473.6 523.7,479.3 528.2,485.1 533.7,488.3 542.9,490.6 549.8,496.3 550.9,504.3 557.8,503.2 565.8,508.9 571.5,511.2 576.1,513.5 572.6,518.1 565.8,522.6 563.5,526.1 571.5,526.1 579.5,524.9 584.1,529.5 582.0,536.0 587.2,540.0 592.9,548.6 594.4,557.2 598.7,565.8 600.1,574.3 602.9,585.8 604.4,594.4 611.5,601.5 617.3,607.2 617.3,614.4 620.1,621.5 617.3,627.3 611.5,631.6 607.2,640.0 610.0,654.4 604.4,657.2 601.6,663.0 595.8,660.1 590.1,654.4 585.8,650.1 578.7,651.5 571.5,650.1 567.2,647.2 561.5,645.8 552.9,642.9 547.2,640.1 542.9,632.9 538.6,641.5 531.5,637.2 524.3,634.0 514.0,630.0 506.0,622.0 501.0,613.0 500.0,603.0 503.4,592.9 497.7,584.3 494.8,577.2 492.0,573.0 489.1,565.8 486.2,557.3 483.4,551.5 480.5,545.8 483.4,538.7 480.5,530.1 476.2,522.9 479.1,514.3 477.6,504.3 480.2,493.1 479.0,482.8" fill="#8DD3C7" stroke="#8DD3C7" stroke-width="1" stroke-linejoin="round"/>
<circle cx="473.3" cy="413.6" r="3.5"/>
<circle cx="493.1" cy="430.0" r="3.5"/>
<circle cx="489.4" cy="440.8" r="3.5"/>
<circle cx="490.8" cy="446.1" r="3.5"/>
<circle cx="497.4" cy="454.4" r="3.5"/>
<circle cx="521.3" cy="456.9" r="3.5"/>
<circle cx="439.7" cy="462.9" r="3.5"/>
<circle cx="478.4" cy="461.5" r="3.5"/>
<circle cx="473.3" cy="466.5" r="3.5"/>
<circle cx="486.2" cy="465.1" r="3.5"/>
<circle cx="491.2" cy="465.1" r="3.5"/>
<circle cx="499.1" cy="460.1" r="3.5"/>
<circle cx="510.5" cy="462.9" r="3.5"/>
<circle cx="481.2" cy="475.1" r="3.5"/>
<circle cx="473.3" cy="479.4" r="3.5"/>
<circle cx="487.7" cy="473.0" r="3.5"/>
<circle cx="507.0" cy="470.1" r="3.5"/>
<circle cx="520.6" cy="473.7" r="3.5"/>
<circle cx="524.1" cy="480.1" r="3.5"/>
<circle cx="471.6" cy="491.6" r="3.5"/>
<circle cx="466.5" cy="498.7" r="3.5"/>
<circle cx="480.5" cy="483.0" r="3.5"/>
<circle cx="490.5" cy="480.1" r="3.5"/>
<circle cx="529.1" cy="443.6" r="3.5"/>
<circle cx="531.5" cy="444.3" r="3.5"/>
<circle cx="521.2" cy="456.9" r="3.5"/>
<circle cx="511.4" cy="462.9" r="3.5"/>
<circle cx="590.1" cy="451.5" r="3.5"/>
<circle cx="557.2" cy="468.0" r="3.5"/>
<circle cx="536.5" cy="475.8" r="3.5"/>
<circle cx="520.0" cy="474.4" r="3.5"/>
<circle cx="524.3" cy="480.8" r="3.5"/>
<circle cx="537.2" cy="483.0" r="3.5"/>
<circle cx="568.7" cy="480.1" r="3.5"/>
<circle cx="571.5" cy="481.5" r="3.5"/>
<circle cx="563.6" cy="485.8" r="3.5"/>
<circle cx="561.5" cy="489.4" r="3.5"/>
<circle cx="588.0" cy="490.8" r="3.5"/>
<circle cx="565.8" cy="497.3" r="3.5"/>
<circle cx="530.0" cy="488.7" r="3.5"/>
<circle cx="544.3" cy="493.0" r="3.5"/>
<circle cx="547.2" cy="497.3" r="3.5"/>
<circle cx="515.7" cy="485.8" r="3.5"/>
<circle cx="473.3" cy="480.7" r="3.5"/>
<circle cx="471.6" cy="492.2" r="3.5"/>
<circle cx="466.5" cy="499.3" r="3.5"/>
<circle cx="466.9" cy="502.9" r="3.5"/>
<circle cx="472.6" cy="502.9" r="3.5"/>
<circle cx="457.6" cy="519.3" r="3.5"/>
<circle cx="474.8" cy="525.8" r="3.5"/>
<circle cx="479.1" cy="534.4" r="3.5"/>
<circle cx="478.4" cy="545.8" r="3.5"/>
<circle cx="480.5" cy="553.0" r="3.5"/>
<circle cx="469.8" cy="558.7" r="3.5"/>
<circle cx="462.6" cy="562.3" r="3.5"/>
<circle cx="477.4" cy="573.7" r="3.5"/>
<circle cx="486.2" cy="560.8" r="3.5"/>
<circle cx="477.4" cy="573.6" r="3.5"/>
<circle cx="484.1" cy="585.7" r="3.5"/>
<circle cx="487.7" cy="585.0" r="3.5"/>
<circle cx="493.4" cy="580.7" r="3.5"/>
<circle cx="494.1" cy="587.9" r="3.5"/>
<circle cx="493.4" cy="592.6" r="3.5"/>
<circle cx="490.8" cy="602.2" r="3.5"/>
<circle cx="497.7" cy="603.6" r="3.5"/>
<circle cx="490.8" cy="612.6" r="3.5"/>
<circle cx="500.5" cy="616.5" r="3.5"/>
<circle cx="507.0" cy="618.4" r="3.5"/>
<circle cx="495.1" cy="625.5" r="3.5"/>
<circle cx="514.8" cy="628.9" r="3.5"/>
<circle cx="510.5" cy="636.1" r="3.5"/>
<circle cx="515.6" cy="640.1" r="3.5"/>
<circle cx="521.7" cy="639.8" r="3.5"/>
<circle cx="509.8" cy="644.4" r="3.5"/>
<circle cx="506.3" cy="648.7" r="3.5"/>
<circle cx="501.2" cy="652.3" r="3.5"/>
<circle cx="525.6" cy="648.4" r="3.5"/>
<circle cx="526.3" cy="662.3" r="3.5"/>
<circle cx="529.0" cy="655.8" r="3.5"/>
<circle cx="515.0" cy="629.3" r="3.5"/>
<circle cx="510.0" cy="635.8" r="3.5"/>
<circle cx="510.0" cy="644.3" r="3.5"/>
<circle cx="521.4" cy="640.1" r="3.5"/>
<circle cx="526.0" cy="648.4" r="3.5"/>
<circle cx="531.5" cy="656.1" r="3.5"/>
<circle cx="526.5" cy="662.7" r="3.5"/>
<circle cx="533.6" cy="644.3" r="3.5"/>
<circle cx="542.2" cy="655.1" r="3.5"/>
<circle cx="547.2" cy="659.4" r="3.5"/>
<circle cx="557.2" cy="652.9" r="3.5"/>
<circle cx="564.4" cy="654.4" r="3.5"/>
<circle cx="570.8" cy="657.2" r="3.5"/>
<circle cx="561.5" cy="660.8" r="3.5"/>
<circle cx="550.1" cy="669.8" r="3.5"/>
<circle cx="571.5" cy="673.7" r="3.5"/>
<circle cx="579.4" cy="669.4" r="3.5"/>
<circle cx="590.1" cy="673.2" r="3.5"/>
<circle cx="601.6" cy="671.5" r="3.5"/>
<circle cx="562.6" cy="696.6" r="3.5"/>
<circle cx="601.6" cy="695.1" r="3.5"/>
<circle cx="601.6" cy="653.6" r="3.5"/>
<circle cx="608.7" cy="666.5" r="3.5"/>
<circle cx="608.7" cy="656.5" r="3.5"/>
<circle cx="595.8" cy="662.9" r="3.5"/>
<circle cx="591.5" cy="658.7" r="3.5"/>
<circle cx="590.0" cy="490.7" r="3.5"/>
<circle cx="601.2" cy="521.5" r="3.5"/>
<circle cx="592.9" cy="540.4" r="3.5"/>
<circle cx="593.6" cy="550.8" r="3.5"/>
<circle cx="599.3" cy="558.7" r="3.5"/>
<circle cx="613.2" cy="559.0" r="3.5"/>
<circle cx="602.6" cy="570.4" r="3.5"/>
<circle cx="610.0" cy="569.4" r="3.5"/>
<circle cx="614.3" cy="568.7" r="3.5"/>
<circle cx="630.3" cy="548.7" r="3.5"/>
<circle cx="656.5" cy="554.1" r="3.5"/>
<circle cx="657.2" cy="564.4" r="3.5"/>
<circle cx="661.5" cy="563.7" r="3.5"/>
<circle cx="658.7" cy="567.3" r="3.5"/>
<circle cx="664.4" cy="570.8" r="3.5"/>
<circle cx="668.0" cy="578.0" r="3.5"/>
<circle cx="644.6" cy="576.1" r="3.5"/>
<circle cx="685.6" cy="571.1" r="3.5"/>
<circle cx="630.1" cy="548.6" r="3.5"/>
<circle cx="613.0" cy="558.9" r="3.5"/>
<circle cx="609.4" cy="569.3" r="3.5"/>
<circle cx="614.4" cy="568.6" r="3.5"/>
<circle cx="602.9" cy="570.8" r="3.5"/>
<circle cx="598.7" cy="558.6" r="3.5"/>
<circle cx="593.6" cy="550.7" r="3.5"/>
<circle cx="592.9" cy="541.4" r="3.5"/>
<circle cx="608.7" cy="583.6" r="3.5"/>
<circle cx="615.1" cy="585.1" r="3.5"/>
<circle cx="611.5" cy="587.9" r="3.5"/>
<circle cx="610.1" cy="597.9" r="3.5"/>
<circle cx="616.5" cy="600.8" r="3.5"/>
<circle cx="621.5" cy="608.4" r="3.5"/>
<circle cx="620.1" cy="615.8" r="3.5"/>
<circle cx="625.8" cy="624.4" r="3.5"/>
<circle cx="620.1" cy="628.7" r="3.5"/>
<circle cx="614.4" cy="625.8" r="3.5"/>
<circle cx="510.7" cy="462.9" r="3.5"/>
<circle cx="557.2" cy="467.9" r="3.5"/>
<circle cx="520.0" cy="474.3" r="3.5"/>
<circle cx="525.0" cy="480.7" r="3.5"/>
<circle cx="536.5" cy="476.5" r="3.5"/>
<circle cx="536.9" cy="482.9" r="3.5"/>
<circle cx="530.0" cy="487.9" r="3.5"/>
<circle cx="542.9" cy="492.9" r="3.5"/>
<circle cx="547.9" cy="496.5" r="3.5"/>
<circle cx="545.1" cy="501.5" r="3.5"/>
<circle cx="570.1" cy="480.7" r="3.5"/>
<circle cx="563.7" cy="485.8" r="3.5"/>
<circle cx="562.2" cy="490.8" r="3.5"/>
<circle cx="565.8" cy="497.9" r="3.5"/>
<circle cx="567.2" cy="503.6" r="3.5"/>
<circle cx="557.2" cy="505.8" r="3.5"/>
<circle cx="550.1" cy="507.2" r="3.5"/>
<circle cx="562.9" cy="509.4" r="3.5"/>
<circle cx="574.4" cy="511.5" r="3.5"/>
<circle cx="582.3" cy="512.2" r="3.5"/>
<circle cx="575.8" cy="518.7" r="3.5"/>
<circle cx="588.0" cy="490.8" r="3.5"/>
<circle cx="599.4" cy="521.5" r="3.5"/>
<circle cx="583.0" cy="524.4" r="3.5"/>
<circle cx="585.8" cy="530.8" r="3.5"/>
<circle cx="580.1" cy="538.7" r="3.5"/>
<circle cx="593.0" cy="540.1" r="3.5"/>
<circle cx="587.3" cy="545.8" r="3.5"/>
<circle cx="593.7" cy="551.6" r="3.5"/>
<circle cx="574.4" cy="544.4" r="3.5"/>
<circle cx="578.0" cy="543.0" r="3.5"/>
<circle cx="630.2" cy="548.6" r="3.5"/>
<circle cx="656.9" cy="554.0" r="3.5"/>
<circle cx="656.9" cy="565.0" r="3.5"/>
<circle cx="661.9" cy="563.6" r="3.5"/>
<circle cx="658.4" cy="567.9" r="3.5"/>
<circle cx="664.1" cy="570.8" r="3.5"/>
<circle cx="667.7" cy="578.6" r="3.5"/>
<circle cx="644.8" cy="576.5" r="3.5"/>
<circle cx="685.6" cy="571.2" r="3.5"/>
<circle cx="650.2" cy="628.3" r="3.5"/>
<circle cx="613.0" cy="559.0" r="3.5"/>
<circle cx="600.1" cy="558.6" r="3.5"/>
<circle cx="602.6" cy="570.8" r="3.5"/>
<circle cx="609.7" cy="569.3" r="3.5"/>
<circle cx="614.0" cy="568.6" r="3.5"/>
<circle cx="608.3" cy="583.6" r="3.5"/>
<circle cx="611.9" cy="587.9" r="3.5"/>
<circle cx="614.7" cy="585.1" r="3.5"/>
<circle cx="609.7" cy="597.9" r="3.5"/>
<circle cx="616.2" cy="600.8" r="3.5"/>
<circle cx="621.2" cy="608.0" r="3.5"/>
<circle cx="619.7" cy="615.8" r="3.5"/>
<circle cx="626.2" cy="623.7" r="3.5"/>
<circle cx="619.7" cy="628.0" r="3.5"/>
<circle cx="621.2" cy="639.4" r="3.5"/>
<circle cx="601.1" cy="587.2" r="3.5"/>
<circle cx="590.3" cy="451.8" r="3.5"/>
<circle cx="588.3" cy="490.8" r="3.5"/>
<circle cx="501.1" cy="651.7" r="3.5"/>
<circle cx="505.2" cy="648.3" r="3.5"/>
<circle cx="509.8" cy="644.2" r="3.5"/>
<circle cx="510.9" cy="636.4" r="3.5"/>
<circle cx="515.5" cy="639.6" r="3.5"/>
<circle cx="522.3" cy="639.6" r="3.5"/>
<circle cx="525.8" cy="648.3" r="3.5"/>
<circle cx="531.5" cy="656.3" r="3.5"/>
<circle cx="526.2" cy="662.5" r="3.5"/>
<circle cx="541.8" cy="655.2" r="3.5"/>
<circle cx="547.5" cy="659.3" r="3.5"/>
<circle cx="550.5" cy="669.4" r="3.5"/>
<circle cx="557.4" cy="652.4" r="3.5"/>
<circle cx="560.1" cy="660.9" r="3.5"/>
<circle cx="564.7" cy="654.0" r="3.5"/>
<circle cx="571.1" cy="657.0" r="3.5"/>
<circle cx="570.4" cy="673.9" r="3.5"/>
<circle cx="573.8" cy="672.3" r="3.5"/>
<circle cx="578.9" cy="669.4" r="3.5"/>
<circle cx="589.9" cy="673.0" r="3.5"/>
<circle cx="601.3" cy="671.7" r="3.5"/>
<circle cx="596.7" cy="662.0" r="3.5"/>
<circle cx="609.3" cy="666.6" r="3.5"/>
<circle cx="612.8" cy="664.3" r="3.5"/>
<circle cx="610.5" cy="656.3" r="3.5"/>
<circle cx="617.3" cy="652.9" r="3.5"/>
<circle cx="619.6" cy="660.9" r="3.5"/>
<circle cx="625.3" cy="657.9" r="3.5"/>
<circle cx="628.8" cy="654.0" r="3.5"/>
<circle cx="621.5" cy="641.0" r="3.5"/>
<circle cx="613.9" cy="682.6" r="3.5"/>
<circle cx="618.5" cy="684.9" r="3.5"/>
<circle cx="601.8" cy="695.2" r="3.5"/>
<circle cx="562.4" cy="696.8" r="3.5"/>
<circle cx="534.9" cy="643.7" r="3.5"/>
<circle cx="532.6" cy="639.2" r="3.5"/>
<circle cx="478.5" cy="461.6" r="3.5"/>
<circle cx="473.3" cy="466.7" r="3.5"/>
<circle cx="481.1" cy="475.3" r="3.5"/>
<circle cx="473.3" cy="479.3" r="3.5"/>
<circle cx="488.2" cy="465.6" r="3.5"/>
<circle cx="492.8" cy="465.0" r="3.5"/>
<circle cx="497.3" cy="454.2" r="3.5"/>
<circle cx="499.1" cy="459.9" r="3.5"/>
<circle cx="510.9" cy="462.7" r="3.5"/>
<circle cx="521.2" cy="457.0" r="3.5"/>
<circle cx="520.0" cy="473.6" r="3.5"/>
<circle cx="524.8" cy="480.5" r="3.5"/>
<circle cx="530.5" cy="488.5" r="3.5"/>
<circle cx="471.6" cy="491.9" r="3.5"/>
<circle cx="466.4" cy="498.8" r="3.5"/>
<circle cx="472.7" cy="502.2" r="3.5"/>
<circle cx="457.9" cy="519.4" r="3.5"/>
<circle cx="490.5" cy="446.7" r="3.5"/>
<circle cx="534.0" cy="476.5" r="3.5"/>
<circle cx="519.1" cy="493.1" r="3.5"/>
<circle cx="526.0" cy="491.9" r="3.5"/>
<circle cx="480.2" cy="482.8" r="3.5"/>
<circle cx="484.8" cy="473.6" r="3.5"/>
<circle cx="490.8" cy="602.4" r="3.5"/>
<circle cx="490.8" cy="612.4" r="3.5"/>
<circle cx="495.4" cy="625.5" r="3.5"/>
<circle cx="500.5" cy="616.3" r="3.5"/>
<circle cx="507.0" cy="617.8" r="3.5"/>
<circle cx="514.7" cy="628.6" r="3.5"/>
<circle cx="510.1" cy="636.3" r="3.5"/>
<circle cx="517.8" cy="639.4" r="3.5"/>
<circle cx="521.7" cy="639.4" r="3.5"/>
<circle cx="525.6" cy="647.9" r="3.5"/>
<circle cx="531.4" cy="638.3" r="3.5"/>
<circle cx="535.2" cy="628.6" r="3.5"/>
<circle cx="544.9" cy="628.6" r="3.5"/>
<circle cx="552.6" cy="638.3" r="3.5"/>
<circle cx="562.3" cy="636.3" r="3.5"/>
<circle cx="564.2" cy="644.1" r="3.5"/>
<circle cx="572.7" cy="639.4" r="3.5"/>
<circle cx="581.6" cy="644.1" r="3.5"/>
<circle cx="591.2" cy="640.2" r="3.5"/>
<circle cx="595.9" cy="632.5" r="3.5"/>
<circle cx="598.9" cy="649.9" r="3.5"/>
<circle cx="606.7" cy="640.2" r="3.5"/>
<circle cx="610.5" cy="628.6" r="3.5"/>
<circle cx="614.4" cy="647.9" r="3.5"/>
<circle cx="618.3" cy="640.2" r="3.5"/>
<circle cx="622.1" cy="628.6" r="3.5"/>
<circle cx="622.1" cy="640.2" r="3.5"/>
<circle cx="627.9" cy="653.7" r="3.5"/>
<circle cx="626.0" cy="657.6" r="3.5"/>
<circle cx="621.4" cy="661.5" r="3.5"/>
<circle cx="612.5" cy="665.3" r="3.5"/>
<circle cx="600.9" cy="663.4" r="3.5"/>
<circle cx="598.9" cy="653.7" r="3.5"/>
<circle cx="595.1" cy="657.6" r="3.5"/>
<circle cx="589.3" cy="651.8" r="3.5"/>
<circle cx="575.8" cy="647.9" r="3.5"/>
<circle cx="568.0" cy="651.8" r="3.5"/>
<circle cx="562.3" cy="653.7" r="3.5"/>
<circle cx="558.4" cy="651.8" r="3.5"/>
<circle cx="546.8" cy="657.6" r="3.5"/>
<circle cx="541.8" cy="654.9" r="3.5"/>
<circle cx="530.2" cy="655.7" r="3.5"/>
<circle cx="526.3" cy="661.5" r="3.5"/>
<circle cx="510.1" cy="644.1" r="3.5"/>
<circle cx="504.3" cy="647.9" r="3.5"/>
<circle cx="500.5" cy="651.8" r="3.5"/></g>
<rect x="429.9" y="402.6" width="265.5" height="305.2" fill="none" stroke="#000" stroke-width="1.15"/>
<text transform="translate(457.00 724.00) rotate(-90)" text-anchor="end" font-size="13.6">-5</text>
<text transform="translate(533.80 724.00) rotate(-90)" text-anchor="end" font-size="13.6">0</text>
<text transform="translate(610.60 724.00) rotate(-90)" text-anchor="end" font-size="13.6">5</text>
<text transform="translate(687.40 724.00) rotate(-90)" text-anchor="end" font-size="13.6">10</text>
<text x="413.93" y="648.60" text-anchor="end" font-size="13.6">-5</text>
<text x="413.93" y="564.15" text-anchor="end" font-size="13.6">0</text>
<text x="413.93" y="479.70" text-anchor="end" font-size="13.6">5</text>
<path d="M451.80 707.80V716.60 M528.60 707.80V716.60 M605.40 707.80V716.60 M682.20 707.80V716.60 M429.90 643.50H421.10 M429.90 559.05H421.10 M429.90 474.60H421.10" stroke="#000" stroke-width="1.15" fill="none"/>
<text x="562.65" y="423.50" text-anchor="middle" font-size="12.2">Spearman&#39;s rank correlation rho= -0.58</text>
<text x="562.65" y="442.80" text-anchor="middle" font-size="12.2">ELIM (Song et al. 2021)</text>
<g transform="translate(505.15 764.30)"><text x="-0.89" y="0.00" font-size="13.3">log</text><text x="16.52" y="2.80" font-size="9.5">2</text><text x="27.81" y="0.00" font-size="13.3">RNA</text><text x="56.08" y="-6.40" font-size="9.5">A</text><text x="69.01" y="0.00" font-size="13.3">RNA</text><text x="97.32" y="-6.40" font-size="9.5">H</text><text x="110.33" y="2.50" font-size="9.3">2</text><path d="M27.7 -10.9Q19.5 -3.65 27.7 3.6 M63.9 2.4L68.6 -11.4 M105.1 -10.9Q112.1 -3.65 105.1 3.6" fill="none" stroke="#000" stroke-width="1.05"/></g>
<g transform="translate(375.80 608.30) rotate(-90)"><text x="-0.90" y="0.00" font-size="13.5">log</text><text x="16.72" y="2.60" font-size="9.5">2</text><text x="28.20" y="0.00" font-size="13.5">T.E.</text><text x="52.18" y="-7.00" font-size="9.5">A</text><text x="65.10" y="0.00" font-size="13.5">T.E.</text><text x="88.72" y="-7.00" font-size="9.5">H</text><text x="102.13" y="2.50" font-size="9.3">2</text><path d="M27.3 -11.3Q19.1 -3.7 27.3 3.9 M59.5 2.2L64.2 -12.0 M96.6 -11.3Q103.6 -3.7 96.6 3.9" fill="none" stroke="#000" stroke-width="1.05"/></g>
<g fill="#E5C494"><polygon points="185.8,901.5 194.3,895.7 207.2,892.9 217.2,898.6 224.4,897.2 230.1,901.5 236.0,905.8 241.7,912.9 243.2,927.2 245.0,935.0 245.8,942.9 248.1,954.3 253.8,965.8 259.5,977.2 261.8,988.7 259.5,997.0 250.3,997.2 243.0,998.6 237.3,1002.9 240.1,1010.1 243.0,1020.1 237.3,1027.2 233.0,1028.7 231.5,1035.8 230.1,1045.8 224.4,1050.0 214.7,1053.7 205.5,1060.6 196.4,1062.9 187.2,1065.2 182.6,1058.3 180.0,1045.8 182.9,1034.4 181.5,1024.4 178.6,1014.4 174.3,1002.9 172.9,992.9 170.0,984.3 168.6,977.2 171.5,968.7 170.0,954.4 165.7,942.9 164.3,934.4 167.2,927.2 175.8,924.3 182.9,918.6 185.8,908.6" fill="#E5C494" stroke="#E5C494" stroke-width="1" stroke-linejoin="round"/>
<circle cx="140.1" cy="813.9" r="3.5"/>
<circle cx="144.0" cy="830.8" r="3.5"/>
<circle cx="100.3" cy="838.6" r="3.5"/>
<circle cx="141.8" cy="841.5" r="3.5"/>
<circle cx="146.8" cy="842.9" r="3.5"/>
<circle cx="146.1" cy="849.4" r="3.5"/>
<circle cx="109.6" cy="862.7" r="3.5"/>
<circle cx="105.3" cy="870.8" r="3.5"/>
<circle cx="147.5" cy="863.2" r="3.5"/>
<circle cx="156.8" cy="862.9" r="3.5"/>
<circle cx="164.7" cy="862.9" r="3.5"/>
<circle cx="137.5" cy="867.5" r="3.5"/>
<circle cx="151.8" cy="879.4" r="3.5"/>
<circle cx="157.6" cy="880.1" r="3.5"/>
<circle cx="159.0" cy="877.3" r="3.5"/>
<circle cx="163.3" cy="874.4" r="3.5"/>
<circle cx="164.7" cy="880.1" r="3.5"/>
<circle cx="158.3" cy="888.0" r="3.5"/>
<circle cx="118.9" cy="885.1" r="3.5"/>
<circle cx="127.5" cy="890.1" r="3.5"/>
<circle cx="91.0" cy="893.7" r="3.5"/>
<circle cx="140.4" cy="895.9" r="3.5"/>
<circle cx="146.8" cy="893.0" r="3.5"/>
<circle cx="151.8" cy="894.4" r="3.5"/>
<circle cx="159.0" cy="897.3" r="3.5"/>
<circle cx="164.7" cy="895.9" r="3.5"/>
<circle cx="197.2" cy="846.5" r="3.5"/>
<circle cx="215.8" cy="842.9" r="3.5"/>
<circle cx="230.1" cy="847.2" r="3.5"/>
<circle cx="229.0" cy="855.1" r="3.5"/>
<circle cx="157.2" cy="862.9" r="3.5"/>
<circle cx="165.7" cy="862.9" r="3.5"/>
<circle cx="170.0" cy="867.2" r="3.5"/>
<circle cx="179.3" cy="864.1" r="3.5"/>
<circle cx="185.8" cy="870.1" r="3.5"/>
<circle cx="195.8" cy="870.8" r="3.5"/>
<circle cx="202.2" cy="870.1" r="3.5"/>
<circle cx="207.2" cy="870.1" r="3.5"/>
<circle cx="213.7" cy="866.1" r="3.5"/>
<circle cx="150.0" cy="862.9" r="3.5"/>
<circle cx="152.9" cy="880.1" r="3.5"/>
<circle cx="161.4" cy="875.8" r="3.5"/>
<circle cx="165.7" cy="874.4" r="3.5"/>
<circle cx="168.6" cy="878.0" r="3.5"/>
<circle cx="177.2" cy="879.4" r="3.5"/>
<circle cx="181.5" cy="883.0" r="3.5"/>
<circle cx="185.1" cy="884.4" r="3.5"/>
<circle cx="192.9" cy="879.4" r="3.5"/>
<circle cx="202.2" cy="880.1" r="3.5"/>
<circle cx="211.5" cy="880.1" r="3.5"/>
<circle cx="218.0" cy="877.3" r="3.5"/>
<circle cx="220.1" cy="884.4" r="3.5"/>
<circle cx="248.7" cy="882.3" r="3.5"/>
<circle cx="158.6" cy="887.3" r="3.5"/>
<circle cx="172.9" cy="887.3" r="3.5"/>
<circle cx="178.6" cy="891.6" r="3.5"/>
<circle cx="187.2" cy="890.8" r="3.5"/>
<circle cx="192.9" cy="894.4" r="3.5"/>
<circle cx="200.1" cy="889.4" r="3.5"/>
<circle cx="204.4" cy="893.0" r="3.5"/>
<circle cx="210.1" cy="891.6" r="3.5"/>
<circle cx="215.8" cy="889.4" r="3.5"/>
<circle cx="227.3" cy="891.6" r="3.5"/>
<circle cx="235.8" cy="894.4" r="3.5"/>
<circle cx="243.0" cy="893.0" r="3.5"/>
<circle cx="248.7" cy="891.6" r="3.5"/>
<circle cx="152.9" cy="895.1" r="3.5"/>
<circle cx="161.4" cy="897.3" r="3.5"/>
<circle cx="168.6" cy="897.3" r="3.5"/>
<circle cx="175.8" cy="898.7" r="3.5"/>
<circle cx="184.3" cy="898.7" r="3.5"/>
<circle cx="194.3" cy="898.7" r="3.5"/>
<circle cx="201.5" cy="898.7" r="3.5"/>
<circle cx="208.7" cy="898.7" r="3.5"/>
<circle cx="218.7" cy="898.7" r="3.5"/>
<circle cx="230.1" cy="898.7" r="3.5"/>
<circle cx="240.1" cy="898.7" r="3.5"/>
<circle cx="319.4" cy="831.5" r="3.5"/>
<circle cx="261.5" cy="862.9" r="3.5"/>
<circle cx="281.1" cy="868.0" r="3.5"/>
<circle cx="290.1" cy="877.3" r="3.5"/>
<circle cx="251.0" cy="882.3" r="3.5"/>
<circle cx="252.9" cy="889.8" r="3.5"/>
<circle cx="241.7" cy="893.0" r="3.5"/>
<circle cx="245.3" cy="895.1" r="3.5"/>
<circle cx="236.0" cy="894.4" r="3.5"/>
<circle cx="251.7" cy="899.4" r="3.5"/>
<circle cx="282.5" cy="892.3" r="3.5"/>
<circle cx="281.8" cy="895.9" r="3.5"/>
<circle cx="316.4" cy="899.4" r="3.5"/>
<circle cx="91.0" cy="893.9" r="3.5"/>
<circle cx="118.9" cy="885.0" r="3.5"/>
<circle cx="127.5" cy="890.3" r="3.5"/>
<circle cx="139.7" cy="896.0" r="3.5"/>
<circle cx="142.5" cy="900.0" r="3.5"/>
<circle cx="144.7" cy="904.6" r="3.5"/>
<circle cx="147.5" cy="893.6" r="3.5"/>
<circle cx="152.6" cy="894.3" r="3.5"/>
<circle cx="157.6" cy="888.6" r="3.5"/>
<circle cx="159.0" cy="882.1" r="3.5"/>
<circle cx="151.8" cy="880.0" r="3.5"/>
<circle cx="160.4" cy="898.6" r="3.5"/>
<circle cx="164.7" cy="899.3" r="3.5"/>
<circle cx="143.3" cy="914.3" r="3.5"/>
<circle cx="164.7" cy="912.9" r="3.5"/>
<circle cx="158.3" cy="921.5" r="3.5"/>
<circle cx="160.4" cy="924.3" r="3.5"/>
<circle cx="165.4" cy="930.1" r="3.5"/>
<circle cx="111.8" cy="934.1" r="3.5"/>
<circle cx="140.7" cy="937.2" r="3.5"/>
<circle cx="154.0" cy="946.5" r="3.5"/>
<circle cx="165.4" cy="938.7" r="3.5"/>
<circle cx="108.9" cy="947.0" r="3.5"/>
<circle cx="113.5" cy="951.2" r="3.5"/>
<circle cx="157.6" cy="964.1" r="3.5"/>
<circle cx="164.7" cy="967.3" r="3.5"/>
<circle cx="148.3" cy="970.8" r="3.5"/>
<circle cx="151.1" cy="971.6" r="3.5"/>
<circle cx="154.7" cy="978.7" r="3.5"/>
<circle cx="152.9" cy="881.4" r="3.5"/>
<circle cx="158.6" cy="882.9" r="3.5"/>
<circle cx="162.9" cy="880.7" r="3.5"/>
<circle cx="178.6" cy="881.4" r="3.5"/>
<circle cx="182.9" cy="884.3" r="3.5"/>
<circle cx="191.5" cy="881.4" r="3.5"/>
<circle cx="201.5" cy="881.4" r="3.5"/>
<circle cx="210.1" cy="881.4" r="3.5"/>
<circle cx="218.7" cy="883.6" r="3.5"/>
<circle cx="155.7" cy="887.2" r="3.5"/>
<circle cx="171.5" cy="887.2" r="3.5"/>
<circle cx="152.9" cy="894.3" r="3.5"/>
<circle cx="160.0" cy="897.9" r="3.5"/>
<circle cx="165.7" cy="898.6" r="3.5"/>
<circle cx="175.8" cy="894.3" r="3.5"/>
<circle cx="180.0" cy="891.4" r="3.5"/>
<circle cx="187.2" cy="890.7" r="3.5"/>
<circle cx="192.9" cy="892.9" r="3.5"/>
<circle cx="201.5" cy="888.6" r="3.5"/>
<circle cx="212.9" cy="888.6" r="3.5"/>
<circle cx="227.3" cy="890.7" r="3.5"/>
<circle cx="234.4" cy="894.3" r="3.5"/>
<circle cx="241.6" cy="892.9" r="3.5"/>
<circle cx="245.9" cy="898.6" r="3.5"/>
<circle cx="247.3" cy="912.9" r="3.5"/>
<circle cx="248.7" cy="921.5" r="3.5"/>
<circle cx="241.6" cy="900.0" r="3.5"/>
<circle cx="167.2" cy="905.8" r="3.5"/>
<circle cx="164.3" cy="913.6" r="3.5"/>
<circle cx="175.8" cy="905.0" r="3.5"/>
<circle cx="182.9" cy="904.3" r="3.5"/>
<circle cx="158.6" cy="920.1" r="3.5"/>
<circle cx="157.2" cy="922.9" r="3.5"/>
<circle cx="165.7" cy="921.5" r="3.5"/>
<circle cx="171.5" cy="915.1" r="3.5"/>
<circle cx="153.6" cy="946.5" r="3.5"/>
<circle cx="157.2" cy="963.7" r="3.5"/>
<circle cx="165.7" cy="967.3" r="3.5"/>
<circle cx="151.4" cy="971.6" r="3.5"/>
<circle cx="154.3" cy="978.7" r="3.5"/>
<circle cx="168.6" cy="973.0" r="3.5"/>
<circle cx="251.0" cy="882.1" r="3.5"/>
<circle cx="252.5" cy="889.7" r="3.5"/>
<circle cx="241.7" cy="893.6" r="3.5"/>
<circle cx="246.7" cy="897.2" r="3.5"/>
<circle cx="241.0" cy="900.0" r="3.5"/>
<circle cx="253.2" cy="901.2" r="3.5"/>
<circle cx="282.5" cy="892.9" r="3.5"/>
<circle cx="281.8" cy="896.5" r="3.5"/>
<circle cx="288.9" cy="906.5" r="3.5"/>
<circle cx="316.4" cy="900.7" r="3.5"/>
<circle cx="255.3" cy="910.8" r="3.5"/>
<circle cx="247.4" cy="912.9" r="3.5"/>
<circle cx="253.9" cy="915.8" r="3.5"/>
<circle cx="250.0" cy="922.6" r="3.5"/>
<circle cx="274.6" cy="924.6" r="3.5"/>
<circle cx="291.8" cy="921.8" r="3.5"/>
<circle cx="287.5" cy="925.1" r="3.5"/>
<circle cx="305.4" cy="926.1" r="3.5"/>
<circle cx="281.8" cy="932.2" r="3.5"/>
<circle cx="321.8" cy="932.6" r="3.5"/>
<circle cx="268.2" cy="928.6" r="3.5"/>
<circle cx="271.1" cy="934.4" r="3.5"/>
<circle cx="250.3" cy="934.4" r="3.5"/>
<circle cx="256.0" cy="936.5" r="3.5"/>
<circle cx="263.2" cy="940.1" r="3.5"/>
<circle cx="295.4" cy="941.5" r="3.5"/>
<circle cx="311.1" cy="940.4" r="3.5"/>
<circle cx="325.4" cy="944.7" r="3.5"/>
<circle cx="271.1" cy="947.2" r="3.5"/>
<circle cx="311.8" cy="952.7" r="3.5"/>
<circle cx="321.1" cy="955.1" r="3.5"/>
<circle cx="272.5" cy="958.0" r="3.5"/>
<circle cx="268.2" cy="966.6" r="3.5"/>
<circle cx="285.4" cy="967.0" r="3.5"/>
<circle cx="307.2" cy="969.0" r="3.5"/>
<circle cx="266.0" cy="975.6" r="3.5"/>
<circle cx="273.9" cy="977.3" r="3.5"/>
<circle cx="313.3" cy="978.7" r="3.5"/>
<circle cx="290.4" cy="880.0" r="3.5"/>
<circle cx="244.6" cy="929.4" r="3.5"/>
<circle cx="257.5" cy="948.7" r="3.5"/>
<circle cx="253.2" cy="947.2" r="3.5"/>
<circle cx="260.3" cy="960.1" r="3.5"/>
<circle cx="157.6" cy="964.0" r="3.5"/>
<circle cx="164.7" cy="967.2" r="3.5"/>
<circle cx="165.4" cy="972.2" r="3.5"/>
<circle cx="147.5" cy="970.7" r="3.5"/>
<circle cx="150.7" cy="971.7" r="3.5"/>
<circle cx="154.4" cy="979.7" r="3.5"/>
<circle cx="136.4" cy="992.6" r="3.5"/>
<circle cx="156.8" cy="992.2" r="3.5"/>
<circle cx="161.1" cy="995.8" r="3.5"/>
<circle cx="164.7" cy="997.2" r="3.5"/>
<circle cx="165.4" cy="1002.2" r="3.5"/>
<circle cx="159.7" cy="1008.6" r="3.5"/>
<circle cx="132.1" cy="1016.9" r="3.5"/>
<circle cx="162.6" cy="1026.1" r="3.5"/>
<circle cx="159.3" cy="1037.3" r="3.5"/>
<circle cx="160.4" cy="1052.7" r="3.5"/>
<circle cx="157.4" cy="964.0" r="3.5"/>
<circle cx="150.7" cy="971.4" r="3.5"/>
<circle cx="166.5" cy="967.2" r="3.5"/>
<circle cx="154.3" cy="979.3" r="3.5"/>
<circle cx="156.4" cy="992.2" r="3.5"/>
<circle cx="162.9" cy="995.8" r="3.5"/>
<circle cx="167.9" cy="997.2" r="3.5"/>
<circle cx="167.2" cy="1002.9" r="3.5"/>
<circle cx="159.7" cy="1008.4" r="3.5"/>
<circle cx="173.6" cy="1010.8" r="3.5"/>
<circle cx="162.9" cy="1025.8" r="3.5"/>
<circle cx="159.3" cy="1037.3" r="3.5"/>
<circle cx="172.2" cy="1040.4" r="3.5"/>
<circle cx="160.7" cy="1052.3" r="3.5"/>
<circle cx="247.3" cy="1012.2" r="3.5"/>
<circle cx="248.7" cy="1002.9" r="3.5"/>
<circle cx="243.0" cy="1040.1" r="3.5"/>
<circle cx="238.7" cy="1044.4" r="3.5"/>
<circle cx="247.3" cy="1055.9" r="3.5"/>
<circle cx="235.8" cy="1051.6" r="3.5"/>
<circle cx="180.0" cy="1038.7" r="3.5"/>
<circle cx="285.4" cy="966.9" r="3.5"/>
<circle cx="307.2" cy="968.9" r="3.5"/>
<circle cx="313.3" cy="979.7" r="3.5"/>
<circle cx="320.7" cy="983.2" r="3.5"/>
<circle cx="267.5" cy="966.4" r="3.5"/>
<circle cx="266.0" cy="975.7" r="3.5"/>
<circle cx="273.9" cy="978.6" r="3.5"/>
<circle cx="272.5" cy="960.0" r="3.5"/>
<circle cx="263.2" cy="984.3" r="3.5"/>
<circle cx="268.9" cy="993.2" r="3.5"/>
<circle cx="276.3" cy="994.6" r="3.5"/>
<circle cx="277.5" cy="1001.8" r="3.5"/>
<circle cx="288.9" cy="994.3" r="3.5"/>
<circle cx="296.1" cy="1000.3" r="3.5"/>
<circle cx="291.1" cy="1007.2" r="3.5"/>
<circle cx="290.1" cy="1001.5" r="3.5"/>
<circle cx="251.0" cy="1002.6" r="3.5"/>
<circle cx="257.5" cy="1003.6" r="3.5"/>
<circle cx="263.2" cy="1008.6" r="3.5"/>
<circle cx="248.2" cy="1012.2" r="3.5"/>
<circle cx="254.6" cy="1012.9" r="3.5"/>
<circle cx="261.0" cy="1018.7" r="3.5"/>
<circle cx="267.5" cy="1017.9" r="3.5"/>
<circle cx="274.6" cy="1011.5" r="3.5"/>
<circle cx="276.1" cy="1018.7" r="3.5"/>
<circle cx="286.8" cy="1019.8" r="3.5"/>
<circle cx="296.8" cy="1023.2" r="3.5"/>
<circle cx="309.2" cy="1021.5" r="3.5"/>
<circle cx="253.2" cy="1025.1" r="3.5"/>
<circle cx="246.7" cy="1030.1" r="3.5"/>
<circle cx="250.3" cy="1034.4" r="3.5"/>
<circle cx="263.9" cy="1030.8" r="3.5"/>
<circle cx="271.8" cy="1024.4" r="3.5"/>
<circle cx="280.3" cy="1030.1" r="3.5"/>
<circle cx="268.2" cy="1037.3" r="3.5"/>
<circle cx="254.6" cy="1038.7" r="3.5"/>
<circle cx="241.7" cy="1039.4" r="3.5"/>
<circle cx="244.6" cy="1043.0" r="3.5"/>
<circle cx="248.9" cy="1047.3" r="3.5"/>
<circle cx="257.5" cy="1040.8" r="3.5"/>
<circle cx="291.8" cy="1039.4" r="3.5"/>
<circle cx="304.7" cy="1030.1" r="3.5"/>
<circle cx="303.2" cy="1035.8" r="3.5"/>
<circle cx="310.4" cy="1035.8" r="3.5"/>
<circle cx="314.4" cy="1040.1" r="3.5"/>
<circle cx="278.2" cy="1044.4" r="3.5"/>
<circle cx="283.9" cy="1046.6" r="3.5"/>
<circle cx="266.8" cy="1047.0" r="3.5"/>
<circle cx="272.5" cy="1048.7" r="3.5"/>
<circle cx="281.8" cy="1051.6" r="3.5"/>
<circle cx="299.7" cy="1045.8" r="3.5"/>
<circle cx="300.4" cy="1050.1" r="3.5"/>
<circle cx="237.4" cy="1050.8" r="3.5"/>
<circle cx="246.3" cy="1055.1" r="3.5"/>
<circle cx="266.8" cy="1055.1" r="3.5"/>
<circle cx="316.1" cy="1055.6" r="3.5"/>
<circle cx="238.9" cy="1010.1" r="3.5"/>
<circle cx="240.3" cy="1017.2" r="3.5"/>
<circle cx="237.4" cy="1024.4" r="3.5"/>
<circle cx="160.2" cy="1052.6" r="3.5"/>
<circle cx="171.7" cy="1041.1" r="3.5"/>
<circle cx="181.5" cy="1053.7" r="3.5"/>
<circle cx="184.9" cy="1069.8" r="3.5"/>
<circle cx="187.2" cy="1074.3" r="3.5"/>
<circle cx="191.8" cy="1077.8" r="3.5"/>
<circle cx="195.2" cy="1082.3" r="3.5"/>
<circle cx="188.4" cy="1087.6" r="3.5"/>
<circle cx="191.3" cy="1096.8" r="3.5"/>
<circle cx="197.5" cy="1074.3" r="3.5"/>
<circle cx="196.4" cy="1068.6" r="3.5"/>
<circle cx="209.0" cy="1082.3" r="3.5"/>
<circle cx="220.4" cy="1089.2" r="3.5"/>
<circle cx="233.5" cy="1092.2" r="3.5"/>
<circle cx="228.4" cy="1067.0" r="3.5"/>
<circle cx="233.5" cy="1070.9" r="3.5"/>
<circle cx="235.3" cy="1056.0" r="3.5"/>
<circle cx="237.1" cy="1051.0" r="3.5"/>
<circle cx="246.3" cy="1055.6" r="3.5"/>
<circle cx="250.2" cy="1064.0" r="3.5"/>
<circle cx="249.0" cy="1066.3" r="3.5"/>
<circle cx="246.7" cy="1045.7" r="3.5"/>
<circle cx="254.7" cy="1042.3" r="3.5"/>
<circle cx="267.3" cy="1046.9" r="3.5"/>
<circle cx="273.1" cy="1048.7" r="3.5"/>
<circle cx="266.9" cy="1056.0" r="3.5"/>
<circle cx="263.2" cy="1061.7" r="3.5"/>
<circle cx="271.9" cy="1061.7" r="3.5"/>
<circle cx="258.2" cy="1081.7" r="3.5"/>
<circle cx="271.5" cy="1080.7" r="3.5"/>
<circle cx="278.3" cy="1081.2" r="3.5"/>
<circle cx="279.9" cy="1085.3" r="3.5"/>
<circle cx="278.8" cy="1096.1" r="3.5"/>
<circle cx="282.2" cy="1051.4" r="3.5"/>
<circle cx="283.4" cy="1045.7" r="3.5"/>
<circle cx="278.8" cy="1043.4" r="3.5"/>
<circle cx="289.1" cy="1069.8" r="3.5"/>
<circle cx="217.0" cy="1062.9" r="3.5"/>
<circle cx="223.8" cy="1060.6" r="3.5"/>
<circle cx="264.0" cy="1031.7" r="3.5"/>
<circle cx="269.2" cy="1036.3" r="3.5"/>
<circle cx="272.6" cy="1033.4" r="3.5"/>
<circle cx="280.6" cy="1031.1" r="3.5"/>
<circle cx="292.0" cy="1040.1" r="3.5"/>
<circle cx="304.1" cy="1031.1" r="3.5"/>
<circle cx="303.5" cy="1035.7" r="3.5"/>
<circle cx="309.8" cy="1036.3" r="3.5"/>
<circle cx="314.4" cy="1040.3" r="3.5"/>
<circle cx="278.3" cy="1044.3" r="3.5"/>
<circle cx="284.0" cy="1046.6" r="3.5"/>
<circle cx="266.9" cy="1047.2" r="3.5"/>
<circle cx="272.6" cy="1048.9" r="3.5"/>
<circle cx="281.5" cy="1052.3" r="3.5"/>
<circle cx="300.1" cy="1046.6" r="3.5"/>
<circle cx="299.5" cy="1052.3" r="3.5"/>
<circle cx="316.7" cy="1056.3" r="3.5"/>
<circle cx="267.1" cy="1055.8" r="3.5"/>
<circle cx="263.4" cy="1062.0" r="3.5"/>
<circle cx="272.0" cy="1062.0" r="3.5"/>
<circle cx="290.0" cy="1070.1" r="3.5"/>
<circle cx="291.5" cy="1073.3" r="3.5"/>
<circle cx="303.3" cy="1079.8" r="3.5"/>
<circle cx="271.4" cy="1081.3" r="3.5"/>
<circle cx="278.3" cy="1081.5" r="3.5"/>
<circle cx="279.2" cy="1085.9" r="3.5"/>
<circle cx="260.0" cy="1082.1" r="3.5"/>
<circle cx="278.5" cy="1097.0" r="3.5"/>
<circle cx="249.2" cy="922.3" r="3.5"/>
<circle cx="274.4" cy="924.0" r="3.5"/>
<circle cx="268.7" cy="928.6" r="3.5"/>
<circle cx="243.5" cy="929.2" r="3.5"/>
<circle cx="250.4" cy="933.7" r="3.5"/>
<circle cx="256.1" cy="936.0" r="3.5"/>
<circle cx="264.1" cy="939.5" r="3.5"/>
<circle cx="269.8" cy="933.7" r="3.5"/>
<circle cx="271.0" cy="938.3" r="3.5"/>
<circle cx="253.8" cy="946.3" r="3.5"/>
<circle cx="261.8" cy="945.2" r="3.5"/>
<circle cx="268.7" cy="947.5" r="3.5"/>
<circle cx="272.1" cy="957.8" r="3.5"/>
<circle cx="254.9" cy="952.0" r="3.5"/>
<circle cx="258.4" cy="960.1" r="3.5"/>
<circle cx="264.1" cy="957.8" r="3.5"/>
<circle cx="267.5" cy="966.9" r="3.5"/>
<circle cx="261.8" cy="965.8" r="3.5"/>
<circle cx="259.5" cy="971.5" r="3.5"/>
<circle cx="266.4" cy="976.1" r="3.5"/>
<circle cx="273.2" cy="978.4" r="3.5"/>
<circle cx="264.1" cy="984.1" r="3.5"/>
<circle cx="268.7" cy="993.2" r="3.5"/>
<circle cx="275.5" cy="994.4" r="3.5"/>
<circle cx="257.2" cy="977.2" r="3.5"/>
<circle cx="251.5" cy="957.8" r="3.5"/>
<circle cx="249.2" cy="948.6" r="3.5"/>
<circle cx="248.1" cy="940.6" r="3.5"/></g>
<rect x="69.8" y="802.8" width="265.4" height="305.5" fill="none" stroke="#000" stroke-width="1.15"/>
<text transform="translate(78.30 1124.50) rotate(-90)" text-anchor="end" font-size="13.6">-10</text>
<text transform="translate(145.45 1124.50) rotate(-90)" text-anchor="end" font-size="13.6">-5</text>
<text transform="translate(212.60 1124.50) rotate(-90)" text-anchor="end" font-size="13.6">0</text>
<text transform="translate(279.75 1124.50) rotate(-90)" text-anchor="end" font-size="13.6">5</text>
<text x="53.83" y="1110.20" text-anchor="end" font-size="13.6">-10</text>
<text x="53.83" y="1037.95" text-anchor="end" font-size="13.6">-5</text>
<text x="53.83" y="965.70" text-anchor="end" font-size="13.6">0</text>
<text x="53.83" y="893.45" text-anchor="end" font-size="13.6">5</text>
<text x="53.83" y="821.20" text-anchor="end" font-size="13.6">10</text>
<path d="M73.10 1108.30V1117.10 M140.25 1108.30V1117.10 M207.40 1108.30V1117.10 M274.55 1108.30V1117.10 M69.80 1105.10H61.00 M69.80 1032.85H61.00 M69.80 960.60H61.00 M69.80 888.35H61.00 M69.80 816.10H61.00" stroke="#000" stroke-width="1.15" fill="none"/>
<text x="202.50" y="823.70" text-anchor="middle" font-size="12.2">Spearman&#39;s rank correlation rho= 0.03</text>
<text x="202.50" y="843.00" text-anchor="middle" font-size="12.2">CDRA (Song et al. 2021)</text>
<g transform="translate(145.00 1164.80)"><text x="-0.89" y="0.00" font-size="13.3">log</text><text x="16.52" y="2.80" font-size="9.5">2</text><text x="27.81" y="0.00" font-size="13.3">RNA</text><text x="56.08" y="-6.40" font-size="9.5">A</text><text x="69.01" y="0.00" font-size="13.3">RNA</text><text x="97.32" y="-6.40" font-size="9.5">H</text><text x="110.09" y="2.50" font-size="9.3">1</text><path d="M27.7 -10.9Q19.5 -3.65 27.7 3.6 M63.9 2.4L68.6 -11.4 M105.1 -10.9Q112.1 -3.65 105.1 3.6" fill="none" stroke="#000" stroke-width="1.05"/></g>
<g transform="translate(15.70 1008.65) rotate(-90)"><text x="-0.90" y="0.00" font-size="13.5">log</text><text x="16.72" y="2.60" font-size="9.5">2</text><text x="28.20" y="0.00" font-size="13.5">T.E.</text><text x="52.18" y="-7.00" font-size="9.5">A</text><text x="65.10" y="0.00" font-size="13.5">T.E.</text><text x="88.72" y="-7.00" font-size="9.5">H</text><text x="101.89" y="2.50" font-size="9.3">1</text><path d="M27.3 -11.3Q19.1 -3.7 27.3 3.9 M59.5 2.2L64.2 -12.0 M96.6 -11.3Q103.6 -3.7 96.6 3.9" fill="none" stroke="#000" stroke-width="1.05"/></g>
<g fill="#8DA0CB"><polygon points="552.6,925.8 568.7,923.5 582.4,925.8 596.1,928.1 605.3,937.2 614.4,946.4 621.3,953.2 624.7,967.0 627.0,980.7 624.7,994.4 621.3,1008.2 616.7,1021.9 609.9,1031.1 600.7,1040.2 591.6,1044.8 580.1,1040.2 568.7,1040.2 557.2,1037.9 550.4,1026.5 543.5,1017.3 534.3,1008.2 527.5,999.0 525.2,985.3 526.3,971.6 532.0,957.8 538.9,948.7 545.8,939.5 549.2,930.4" fill="#8DA0CB" stroke="#8DA0CB" stroke-width="1" stroke-linejoin="round"/>
<circle cx="599.5" cy="814.0" r="3.5"/>
<circle cx="577.1" cy="841.1" r="3.5"/>
<circle cx="601.5" cy="855.7" r="3.5"/>
<circle cx="583.1" cy="863.7" r="3.5"/>
<circle cx="565.1" cy="872.1" r="3.5"/>
<circle cx="568.5" cy="883.1" r="3.5"/>
<circle cx="584.5" cy="883.7" r="3.5"/>
<circle cx="593.7" cy="886.5" r="3.5"/>
<circle cx="614.6" cy="884.5" r="3.5"/>
<circle cx="564.1" cy="890.5" r="3.5"/>
<circle cx="558.1" cy="896.5" r="3.5"/>
<circle cx="564.5" cy="895.1" r="3.5"/>
<circle cx="572.5" cy="895.1" r="3.5"/>
<circle cx="553.1" cy="902.5" r="3.5"/>
<circle cx="553.7" cy="906.1" r="3.5"/>
<circle cx="573.1" cy="903.1" r="3.5"/>
<circle cx="571.1" cy="908.2" r="3.5"/>
<circle cx="582.1" cy="904.1" r="3.5"/>
<circle cx="588.1" cy="904.1" r="3.5"/>
<circle cx="594.1" cy="908.2" r="3.5"/>
<circle cx="598.1" cy="913.2" r="3.5"/>
<circle cx="610.2" cy="911.2" r="3.5"/>
<circle cx="621.8" cy="902.5" r="3.5"/>
<circle cx="624.2" cy="918.2" r="3.5"/>
<circle cx="569.1" cy="913.2" r="3.5"/>
<circle cx="566.1" cy="916.2" r="3.5"/>
<circle cx="560.1" cy="917.2" r="3.5"/>
<circle cx="578.1" cy="912.2" r="3.5"/>
<circle cx="584.1" cy="912.2" r="3.5"/>
<circle cx="590.1" cy="916.2" r="3.5"/>
<circle cx="606.1" cy="917.2" r="3.5"/>
<circle cx="513.0" cy="919.2" r="3.5"/>
<circle cx="554.1" cy="919.8" r="3.5"/>
<circle cx="512.6" cy="919.3" r="3.5"/>
<circle cx="517.5" cy="922.6" r="3.5"/>
<circle cx="545.1" cy="932.9" r="3.5"/>
<circle cx="522.9" cy="947.2" r="3.5"/>
<circle cx="525.0" cy="948.9" r="3.5"/>
<circle cx="553.6" cy="902.2" r="3.5"/>
<circle cx="553.6" cy="905.7" r="3.5"/>
<circle cx="557.9" cy="896.4" r="3.5"/>
<circle cx="563.7" cy="892.1" r="3.5"/>
<circle cx="564.4" cy="895.7" r="3.5"/>
<circle cx="572.7" cy="895.0" r="3.5"/>
<circle cx="573.7" cy="903.6" r="3.5"/>
<circle cx="570.1" cy="910.0" r="3.5"/>
<circle cx="568.0" cy="915.8" r="3.5"/>
<circle cx="560.1" cy="917.5" r="3.5"/>
<circle cx="553.6" cy="920.8" r="3.5"/>
<circle cx="549.4" cy="922.2" r="3.5"/>
<circle cx="583.0" cy="904.3" r="3.5"/>
<circle cx="588.7" cy="904.3" r="3.5"/>
<circle cx="595.1" cy="908.6" r="3.5"/>
<circle cx="512.9" cy="958.7" r="3.5"/>
<circle cx="514.3" cy="963.0" r="3.5"/>
<circle cx="528.6" cy="958.0" r="3.5"/>
<circle cx="525.0" cy="962.2" r="3.5"/>
<circle cx="510.3" cy="972.3" r="3.5"/>
<circle cx="517.9" cy="970.1" r="3.5"/>
<circle cx="511.4" cy="984.4" r="3.5"/>
<circle cx="518.6" cy="978.7" r="3.5"/>
<circle cx="621.5" cy="902.6" r="3.5"/>
<circle cx="624.6" cy="918.6" r="3.5"/>
<circle cx="620.8" cy="932.9" r="3.5"/>
<circle cx="626.5" cy="931.8" r="3.5"/>
<circle cx="610.0" cy="911.5" r="3.5"/>
<circle cx="606.5" cy="917.9" r="3.5"/>
<circle cx="595.0" cy="908.3" r="3.5"/>
<circle cx="597.2" cy="914.3" r="3.5"/>
<circle cx="584.3" cy="903.6" r="3.5"/>
<circle cx="588.6" cy="903.6" r="3.5"/>
<circle cx="632.9" cy="955.8" r="3.5"/>
<circle cx="637.2" cy="954.7" r="3.5"/>
<circle cx="641.5" cy="959.4" r="3.5"/>
<circle cx="650.8" cy="957.0" r="3.5"/>
<circle cx="655.8" cy="957.2" r="3.5"/>
<circle cx="663.0" cy="958.0" r="3.5"/>
<circle cx="654.4" cy="963.7" r="3.5"/>
<circle cx="644.4" cy="968.0" r="3.5"/>
<circle cx="660.8" cy="970.4" r="3.5"/>
<circle cx="648.7" cy="972.3" r="3.5"/>
<circle cx="661.5" cy="978.7" r="3.5"/>
<circle cx="655.8" cy="981.6" r="3.5"/>
<circle cx="670.1" cy="981.6" r="3.5"/>
<circle cx="665.8" cy="985.1" r="3.5"/>
<circle cx="677.3" cy="981.6" r="3.5"/>
<circle cx="680.1" cy="964.4" r="3.5"/>
<circle cx="640.1" cy="984.4" r="3.5"/>
<circle cx="634.4" cy="988.7" r="3.5"/>
<circle cx="657.3" cy="988.7" r="3.5"/>
<circle cx="439.7" cy="960.0" r="3.5"/>
<circle cx="453.3" cy="973.6" r="3.5"/>
<circle cx="465.1" cy="997.5" r="3.5"/>
<circle cx="496.5" cy="958.6" r="3.5"/>
<circle cx="489.8" cy="991.8" r="3.5"/>
<circle cx="512.0" cy="958.9" r="3.5"/>
<circle cx="514.8" cy="962.2" r="3.5"/>
<circle cx="510.5" cy="972.2" r="3.5"/>
<circle cx="517.7" cy="970.0" r="3.5"/>
<circle cx="520.6" cy="975.8" r="3.5"/>
<circle cx="517.0" cy="980.0" r="3.5"/>
<circle cx="511.3" cy="987.2" r="3.5"/>
<circle cx="517.7" cy="992.9" r="3.5"/>
<circle cx="519.8" cy="998.6" r="3.5"/>
<circle cx="513.4" cy="1007.9" r="3.5"/>
<circle cx="514.8" cy="1014.4" r="3.5"/>
<circle cx="522.7" cy="1014.4" r="3.5"/>
<circle cx="524.9" cy="950.0" r="3.5"/>
<circle cx="527.7" cy="961.4" r="3.5"/>
<circle cx="526.3" cy="988.6" r="3.5"/>
<circle cx="527.7" cy="999.4" r="3.5"/>
<circle cx="529.1" cy="1007.2" r="3.5"/>
<circle cx="523.4" cy="984.3" r="3.5"/>
<circle cx="522.0" cy="966.5" r="3.5"/>
<circle cx="514.3" cy="962.1" r="3.5"/>
<circle cx="510.3" cy="972.2" r="3.5"/>
<circle cx="518.6" cy="970.0" r="3.5"/>
<circle cx="518.6" cy="980.0" r="3.5"/>
<circle cx="511.4" cy="987.9" r="3.5"/>
<circle cx="517.2" cy="992.9" r="3.5"/>
<circle cx="520.0" cy="998.6" r="3.5"/>
<circle cx="513.6" cy="1007.9" r="3.5"/>
<circle cx="515.0" cy="1014.4" r="3.5"/>
<circle cx="522.2" cy="1014.4" r="3.5"/>
<circle cx="527.9" cy="999.3" r="3.5"/>
<circle cx="530.8" cy="1007.2" r="3.5"/>
<circle cx="535.1" cy="1019.4" r="3.5"/>
<circle cx="538.6" cy="1028.7" r="3.5"/>
<circle cx="545.8" cy="1026.5" r="3.5"/>
<circle cx="537.2" cy="1055.1" r="3.5"/>
<circle cx="558.7" cy="1055.1" r="3.5"/>
<circle cx="564.4" cy="1054.4" r="3.5"/>
<circle cx="571.5" cy="1057.3" r="3.5"/>
<circle cx="583.0" cy="1053.0" r="3.5"/>
<circle cx="588.7" cy="1050.1" r="3.5"/>
<circle cx="590.1" cy="1058.7" r="3.5"/>
<circle cx="558.7" cy="1043.0" r="3.5"/>
<circle cx="567.2" cy="1044.4" r="3.5"/>
<circle cx="641.5" cy="960.7" r="3.5"/>
<circle cx="654.4" cy="962.9" r="3.5"/>
<circle cx="660.1" cy="961.4" r="3.5"/>
<circle cx="660.8" cy="970.3" r="3.5"/>
<circle cx="661.5" cy="978.6" r="3.5"/>
<circle cx="657.3" cy="981.5" r="3.5"/>
<circle cx="665.8" cy="985.0" r="3.5"/>
<circle cx="670.1" cy="981.5" r="3.5"/>
<circle cx="674.4" cy="985.8" r="3.5"/>
<circle cx="671.6" cy="990.0" r="3.5"/>
<circle cx="678.7" cy="984.3" r="3.5"/>
<circle cx="677.3" cy="995.8" r="3.5"/>
<circle cx="658.0" cy="988.6" r="3.5"/>
<circle cx="661.5" cy="993.6" r="3.5"/>
<circle cx="668.0" cy="1000.8" r="3.5"/>
<circle cx="675.1" cy="1010.1" r="3.5"/>
<circle cx="658.7" cy="1015.8" r="3.5"/>
<circle cx="645.8" cy="1019.4" r="3.5"/>
<circle cx="637.9" cy="1016.1" r="3.5"/>
<circle cx="641.5" cy="1008.6" r="3.5"/>
<circle cx="647.2" cy="1011.5" r="3.5"/>
<circle cx="650.1" cy="1005.8" r="3.5"/>
<circle cx="653.0" cy="1001.5" r="3.5"/>
<circle cx="654.4" cy="997.2" r="3.5"/>
<circle cx="645.8" cy="994.3" r="3.5"/>
<circle cx="637.2" cy="990.8" r="3.5"/>
<circle cx="635.1" cy="1001.5" r="3.5"/>
<circle cx="640.1" cy="985.0" r="3.5"/>
<circle cx="644.4" cy="977.2" r="3.5"/>
<circle cx="637.2" cy="972.9" r="3.5"/>
<circle cx="630.1" cy="965.7" r="3.5"/>
<circle cx="645.8" cy="968.6" r="3.5"/>
<circle cx="651.5" cy="972.9" r="3.5"/>
<circle cx="628.6" cy="1014.4" r="3.5"/>
<circle cx="629.4" cy="1022.9" r="3.5"/>
<circle cx="618.6" cy="1029.4" r="3.5"/>
<circle cx="617.9" cy="1033.0" r="3.5"/>
<circle cx="608.6" cy="1033.0" r="3.5"/>
<circle cx="638.7" cy="1042.3" r="3.5"/>
<circle cx="633.6" cy="1051.6" r="3.5"/>
<circle cx="620.1" cy="1045.1" r="3.5"/>
<circle cx="607.9" cy="1045.1" r="3.5"/>
<circle cx="615.8" cy="1057.3" r="3.5"/>
<circle cx="622.2" cy="1057.3" r="3.5"/>
<circle cx="588.6" cy="1050.1" r="3.5"/>
<circle cx="584.3" cy="1053.0" r="3.5"/>
<circle cx="657.3" cy="1058.7" r="3.5"/>
<circle cx="625.8" cy="1012.9" r="3.5"/>
<circle cx="539.1" cy="1030.0" r="3.5"/>
<circle cx="537.1" cy="1055.4" r="3.5"/>
<circle cx="558.1" cy="1055.0" r="3.5"/>
<circle cx="564.1" cy="1055.0" r="3.5"/>
<circle cx="571.1" cy="1057.6" r="3.5"/>
<circle cx="558.1" cy="1074.5" r="3.5"/>
<circle cx="570.5" cy="1069.7" r="3.5"/>
<circle cx="545.7" cy="1083.1" r="3.5"/>
<circle cx="564.1" cy="1091.7" r="3.5"/>
<circle cx="575.7" cy="1097.1" r="3.5"/>
<circle cx="585.7" cy="1081.7" r="3.5"/>
<circle cx="592.5" cy="1087.1" r="3.5"/>
<circle cx="582.1" cy="1064.4" r="3.5"/>
<circle cx="584.1" cy="1066.1" r="3.5"/>
<circle cx="589.1" cy="1059.6" r="3.5"/>
<circle cx="584.1" cy="1052.0" r="3.5"/>
<circle cx="589.1" cy="1049.6" r="3.5"/>
<circle cx="608.2" cy="1045.0" r="3.5"/>
<circle cx="619.8" cy="1045.0" r="3.5"/>
<circle cx="633.2" cy="1051.6" r="3.5"/>
<circle cx="616.2" cy="1057.0" r="3.5"/>
<circle cx="622.2" cy="1058.0" r="3.5"/>
<circle cx="619.8" cy="1063.6" r="3.5"/>
<circle cx="618.6" cy="1076.5" r="3.5"/>
<circle cx="638.2" cy="1042.0" r="3.5"/>
<circle cx="618.2" cy="1033.0" r="3.5"/>
<circle cx="557.1" cy="1042.0" r="3.5"/>
<circle cx="560.1" cy="1038.0" r="3.5"/>
<circle cx="566.1" cy="1042.0" r="3.5"/>
<circle cx="572.1" cy="1039.0" r="3.5"/>
<circle cx="624.7" cy="920.0" r="3.5"/>
<circle cx="621.3" cy="933.2" r="3.5"/>
<circle cx="627.0" cy="931.4" r="3.5"/>
<circle cx="683.7" cy="943.5" r="3.5"/>
<circle cx="683.3" cy="964.4" r="3.5"/>
<circle cx="632.7" cy="955.7" r="3.5"/>
<circle cx="636.7" cy="954.3" r="3.5"/>
<circle cx="641.3" cy="959.5" r="3.5"/>
<circle cx="650.5" cy="956.9" r="3.5"/>
<circle cx="655.6" cy="956.9" r="3.5"/>
<circle cx="663.1" cy="957.8" r="3.5"/>
<circle cx="654.5" cy="964.1" r="3.5"/>
<circle cx="659.6" cy="961.2" r="3.5"/>
<circle cx="660.8" cy="970.4" r="3.5"/>
<circle cx="630.4" cy="965.8" r="3.5"/>
<circle cx="636.2" cy="968.1" r="3.5"/>
<circle cx="644.8" cy="966.9" r="3.5"/>
<circle cx="649.9" cy="971.5" r="3.5"/>
<circle cx="652.2" cy="973.8" r="3.5"/>
<circle cx="637.3" cy="977.2" r="3.5"/>
<circle cx="641.9" cy="979.5" r="3.5"/>
<circle cx="646.5" cy="978.4" r="3.5"/>
<circle cx="641.3" cy="985.8" r="3.5"/>
<circle cx="656.8" cy="981.8" r="3.5"/>
<circle cx="661.9" cy="978.4" r="3.5"/>
<circle cx="669.4" cy="981.2" r="3.5"/>
<circle cx="665.9" cy="985.2" r="3.5"/>
<circle cx="678.5" cy="981.8" r="3.5"/>
<circle cx="680.8" cy="980.1" r="3.5"/>
<circle cx="685.4" cy="989.2" r="3.5"/>
<circle cx="657.9" cy="988.7" r="3.5"/>
<circle cx="661.9" cy="993.2" r="3.5"/>
<circle cx="671.6" cy="989.8" r="3.5"/>
<circle cx="676.8" cy="988.7" r="3.5"/>
<circle cx="677.4" cy="996.1" r="3.5"/>
<circle cx="636.2" cy="991.0" r="3.5"/>
<circle cx="645.3" cy="994.4" r="3.5"/>
<circle cx="653.3" cy="996.7" r="3.5"/>
<circle cx="668.2" cy="999.0" r="3.5"/>
<circle cx="623.6" cy="950.9" r="3.5"/>
<circle cx="619.0" cy="947.5" r="3.5"/>
<circle cx="625.9" cy="961.2" r="3.5"/>
<circle cx="625.9" cy="968.1" r="3.5"/>
<circle cx="628.2" cy="980.7" r="3.5"/>
<circle cx="625.9" cy="992.1" r="3.5"/>
<circle cx="624.7" cy="992.3" r="3.5"/>
<circle cx="621.3" cy="999.2" r="3.5"/>
<circle cx="621.3" cy="1007.2" r="3.5"/>
<circle cx="619.0" cy="1012.9" r="3.5"/>
<circle cx="628.2" cy="1014.0" r="3.5"/>
<circle cx="629.3" cy="1023.4" r="3.5"/>
<circle cx="620.1" cy="1029.5" r="3.5"/>
<circle cx="620.1" cy="1044.9" r="3.5"/>
<circle cx="622.4" cy="1058.1" r="3.5"/>
<circle cx="620.7" cy="1063.8" r="3.5"/>
<circle cx="639.0" cy="1042.1" r="3.5"/>
<circle cx="633.9" cy="1051.8" r="3.5"/>
<circle cx="657.0" cy="1060.4" r="3.5"/>
<circle cx="637.9" cy="1015.8" r="3.5"/>
<circle cx="645.6" cy="1019.5" r="3.5"/>
<circle cx="647.6" cy="1012.9" r="3.5"/>
<circle cx="636.2" cy="1000.9" r="3.5"/>
<circle cx="639.6" cy="1007.2" r="3.5"/>
<circle cx="637.3" cy="993.4" r="3.5"/>
<circle cx="645.3" cy="994.6" r="3.5"/>
<circle cx="649.9" cy="1001.4" r="3.5"/>
<circle cx="653.3" cy="996.9" r="3.5"/>
<circle cx="652.2" cy="1007.2" r="3.5"/>
<circle cx="659.1" cy="1015.8" r="3.5"/>
<circle cx="661.6" cy="994.0" r="3.5"/>
<circle cx="668.2" cy="1001.2" r="3.5"/>
<circle cx="675.7" cy="1010.4" r="3.5"/>
<circle cx="677.6" cy="996.3" r="3.5"/>
<circle cx="672.8" cy="990.6" r="3.5"/>
<circle cx="686.0" cy="990.6" r="3.5"/>
<circle cx="677.4" cy="990.6" r="3.5"/>
<circle cx="552.6" cy="928.1" r="3.5"/>
<circle cx="559.5" cy="923.5" r="3.5"/>
<circle cx="568.7" cy="918.9" r="3.5"/>
<circle cx="575.5" cy="916.6" r="3.5"/>
<circle cx="580.1" cy="912.0" r="3.5"/>
<circle cx="587.0" cy="909.8" r="3.5"/>
<circle cx="593.8" cy="914.3" r="3.5"/>
<circle cx="600.7" cy="921.2" r="3.5"/>
<circle cx="607.6" cy="925.8" r="3.5"/>
<circle cx="614.4" cy="932.6" r="3.5"/>
<circle cx="596.1" cy="905.2" r="3.5"/>
<circle cx="584.7" cy="902.9" r="3.5"/>
<circle cx="568.7" cy="909.8" r="3.5"/>
<circle cx="573.2" cy="902.9" r="3.5"/>
<circle cx="564.1" cy="916.6" r="3.5"/>
<circle cx="554.9" cy="921.2" r="3.5"/>
<circle cx="557.2" cy="932.6" r="3.5"/>
<circle cx="545.8" cy="932.6" r="3.5"/>
<circle cx="609.9" cy="944.1" r="3.5"/>
<circle cx="621.3" cy="948.7" r="3.5"/>
<circle cx="628.2" cy="955.5" r="3.5"/>
<circle cx="623.6" cy="1008.2" r="3.5"/>
<circle cx="619.0" cy="1026.5" r="3.5"/>
<circle cx="614.4" cy="1035.6" r="3.5"/>
<circle cx="605.3" cy="1040.2" r="3.5"/>
<circle cx="598.4" cy="1047.1" r="3.5"/>
<circle cx="587.0" cy="1049.4" r="3.5"/>
<circle cx="580.1" cy="1044.8" r="3.5"/>
<circle cx="568.7" cy="1044.8" r="3.5"/>
<circle cx="559.5" cy="1042.5" r="3.5"/>
<circle cx="554.9" cy="1040.2" r="3.5"/>
<circle cx="545.8" cy="1026.5" r="3.5"/>
<circle cx="538.9" cy="1024.2" r="3.5"/>
<circle cx="534.3" cy="1017.3" r="3.5"/>
<circle cx="527.5" cy="1008.2" r="3.5"/>
<circle cx="522.9" cy="999.0" r="3.5"/>
<circle cx="520.6" cy="985.3" r="3.5"/>
<circle cx="522.9" cy="971.6" r="3.5"/>
<circle cx="527.5" cy="962.4" r="3.5"/>
<circle cx="534.3" cy="953.2" r="3.5"/>
<circle cx="541.2" cy="944.1" r="3.5"/></g>
<rect x="429.9" y="802.8" width="265.5" height="305.5" fill="none" stroke="#000" stroke-width="1.15"/>
<text transform="translate(444.40 1124.50) rotate(-90)" text-anchor="end" font-size="13.6">-10</text>
<text transform="translate(514.05 1124.50) rotate(-90)" text-anchor="end" font-size="13.6">-5</text>
<text transform="translate(583.70 1124.50) rotate(-90)" text-anchor="end" font-size="13.6">0</text>
<text transform="translate(653.35 1124.50) rotate(-90)" text-anchor="end" font-size="13.6">5</text>
<text x="413.93" y="1082.40" text-anchor="end" font-size="13.6">-5</text>
<text x="413.93" y="989.95" text-anchor="end" font-size="13.6">0</text>
<text x="413.93" y="897.50" text-anchor="end" font-size="13.6">5</text>
<path d="M439.20 1108.30V1117.10 M508.85 1108.30V1117.10 M578.50 1108.30V1117.10 M648.15 1108.30V1117.10 M429.90 1077.30H421.10 M429.90 984.85H421.10 M429.90 892.40H421.10" stroke="#000" stroke-width="1.15" fill="none"/>
<text x="562.65" y="823.70" text-anchor="middle" font-size="12.2">Spearman&#39;s rank correlation rho= -0.06</text>
<text x="562.65" y="843.00" text-anchor="middle" font-size="12.2">CLJU (Al-Bassam et al. 2018)</text>
<g transform="translate(505.15 1164.80)"><text x="-0.89" y="0.00" font-size="13.3">log</text><text x="16.52" y="2.80" font-size="9.5">2</text><text x="27.81" y="0.00" font-size="13.3">RNA</text><text x="56.08" y="-6.40" font-size="9.5">A</text><text x="69.01" y="0.00" font-size="13.3">RNA</text><text x="97.32" y="-6.40" font-size="9.5">H</text><text x="110.09" y="2.50" font-size="9.3">1</text><path d="M27.7 -10.9Q19.5 -3.65 27.7 3.6 M63.9 2.4L68.6 -11.4 M105.1 -10.9Q112.1 -3.65 105.1 3.6" fill="none" stroke="#000" stroke-width="1.05"/></g>
<g transform="translate(375.80 1008.65) rotate(-90)"><text x="-0.90" y="0.00" font-size="13.5">log</text><text x="16.72" y="2.60" font-size="9.5">2</text><text x="28.20" y="0.00" font-size="13.5">T.E.</text><text x="52.18" y="-7.00" font-size="9.5">A</text><text x="65.10" y="0.00" font-size="13.5">T.E.</text><text x="88.72" y="-7.00" font-size="9.5">H</text><text x="101.89" y="2.50" font-size="9.3">1</text><path d="M27.3 -11.3Q19.1 -3.7 27.3 3.9 M59.5 2.2L64.2 -12.0 M96.6 -11.3Q103.6 -3.7 96.6 3.9" fill="none" stroke="#000" stroke-width="1.05"/></g>
</svg>
</body></html>
